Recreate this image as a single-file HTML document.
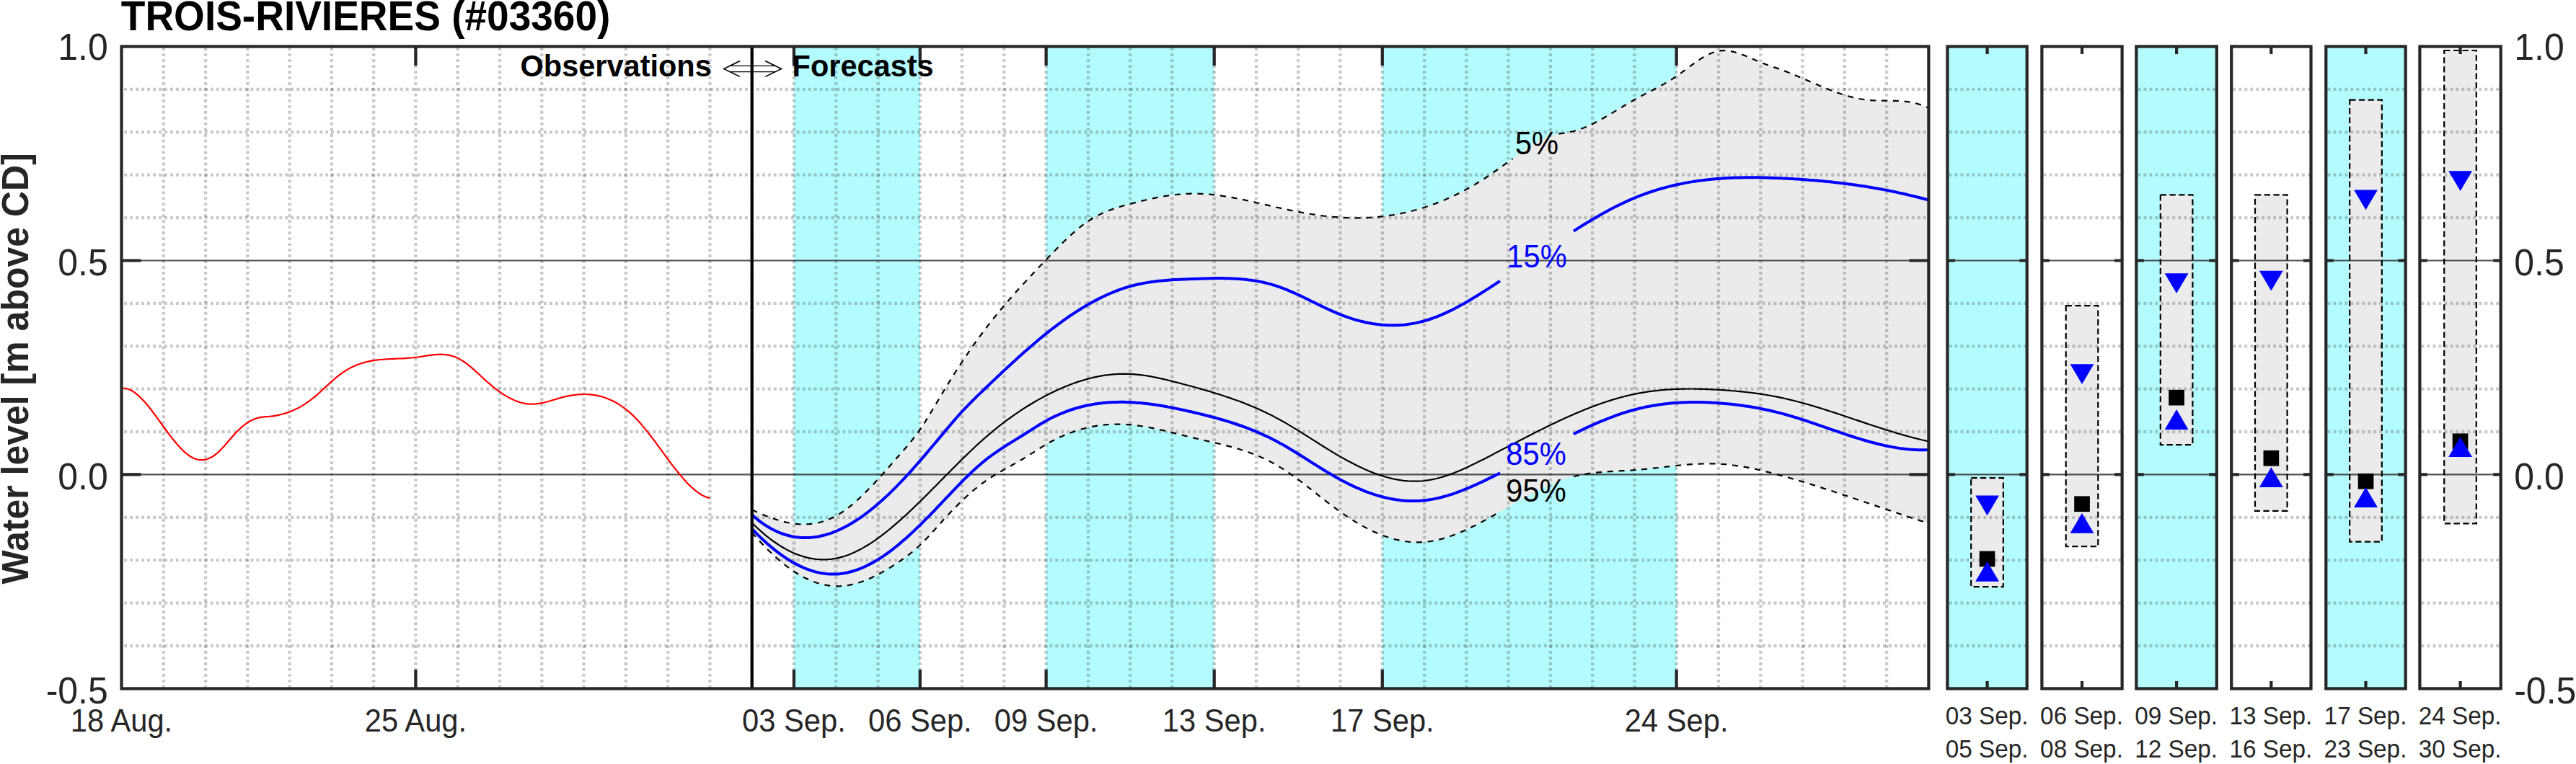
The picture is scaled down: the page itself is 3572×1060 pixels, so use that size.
<!DOCTYPE html>
<html lang="en"><head><meta charset="utf-8"><title>TROIS-RIVIERES (#03360)</title>
<style>html,body{margin:0;padding:0;background:#fff;}body{width:3572px;height:1060px;overflow:hidden;}svg{display:block;}</style>
</head><body>
<svg width="3572" height="1060" viewBox="0 0 3572 1060" font-family='"Liberation Sans", Arial, Helvetica, sans-serif'>
<rect width="3572" height="1060" fill="#fff"/>
<g id="main">
<rect x="1100.9" y="64.5" width="174.8" height="890.9" fill="#b3fbfd"/>
<rect x="1450.6" y="64.5" width="233.1" height="890.9" fill="#b3fbfd"/>
<rect x="1916.8" y="64.5" width="407.9" height="890.9" fill="#b3fbfd"/>
<path d="M1042.7 707.2 L1045.6 708.6 L1048.5 709.9 L1051.4 711.2 L1054.3 712.5 L1057.2 713.7 L1060.1 714.9 L1063.0 716.1 L1066.0 717.2 L1068.9 718.3 L1071.8 719.3 L1074.7 720.3 L1077.6 721.2 L1080.5 722.1 L1083.4 722.9 L1086.4 723.7 L1089.3 724.4 L1092.2 725.0 L1095.1 725.6 L1098.0 726.1 L1100.9 726.5 L1103.8 726.8 L1106.8 727.1 L1109.7 727.3 L1112.6 727.4 L1115.5 727.4 L1118.4 727.3 L1121.3 727.2 L1124.2 726.9 L1127.2 726.6 L1130.1 726.1 L1133.0 725.6 L1135.9 725.0 L1138.8 724.2 L1141.7 723.4 L1144.6 722.4 L1147.5 721.3 L1150.5 720.1 L1153.4 718.8 L1156.3 717.4 L1159.2 715.9 L1162.1 714.2 L1165.0 712.4 L1167.9 710.5 L1170.9 708.5 L1173.8 706.4 L1176.7 704.1 L1179.6 701.8 L1182.5 699.4 L1185.4 696.9 L1188.3 694.3 L1191.3 691.7 L1194.2 688.9 L1197.1 686.1 L1200.0 683.2 L1202.9 680.3 L1205.8 677.3 L1208.7 674.3 L1211.7 671.2 L1214.6 668.0 L1217.5 664.9 L1220.4 661.6 L1223.3 658.4 L1226.2 655.1 L1229.1 651.8 L1232.1 648.5 L1235.0 645.2 L1237.9 641.9 L1240.8 638.6 L1243.7 635.2 L1246.6 631.9 L1249.5 628.6 L1252.4 625.3 L1255.4 621.9 L1258.3 618.5 L1261.2 615.0 L1264.1 611.5 L1267.0 607.8 L1269.9 604.0 L1272.8 600.1 L1275.8 596.0 L1278.7 591.7 L1281.6 587.2 L1284.5 582.6 L1287.4 577.9 L1290.3 573.1 L1293.2 568.3 L1296.2 563.4 L1299.1 558.4 L1302.0 553.5 L1304.9 548.6 L1307.8 543.7 L1310.7 538.9 L1313.6 534.1 L1316.6 529.4 L1319.5 524.7 L1322.4 520.1 L1325.3 515.5 L1328.2 511.0 L1331.1 506.5 L1334.0 502.1 L1336.9 497.7 L1339.9 493.3 L1342.8 489.1 L1345.7 484.8 L1348.6 480.7 L1351.5 476.5 L1354.4 472.5 L1357.3 468.4 L1360.3 464.5 L1363.2 460.6 L1366.1 456.7 L1369.0 452.9 L1371.9 449.1 L1374.8 445.4 L1377.7 441.8 L1380.7 438.1 L1383.6 434.6 L1386.5 431.0 L1389.4 427.5 L1392.3 424.1 L1395.2 420.7 L1398.1 417.3 L1401.1 413.9 L1404.0 410.6 L1406.9 407.3 L1409.8 404.1 L1412.7 400.8 L1415.6 397.6 L1418.5 394.4 L1421.5 391.3 L1424.4 388.1 L1427.3 385.0 L1430.2 381.9 L1433.1 378.8 L1436.0 375.7 L1438.9 372.6 L1441.8 369.5 L1444.8 366.5 L1447.7 363.4 L1450.6 360.4 L1453.5 357.3 L1456.4 354.3 L1459.3 351.3 L1462.2 348.3 L1465.2 345.3 L1468.1 342.3 L1471.0 339.4 L1473.9 336.5 L1476.8 333.7 L1479.7 330.9 L1482.6 328.2 L1485.6 325.5 L1488.5 322.9 L1491.4 320.4 L1494.3 317.9 L1497.2 315.5 L1500.1 313.2 L1503.0 311.0 L1506.0 308.9 L1508.9 306.9 L1511.8 305.0 L1514.7 303.2 L1517.6 301.6 L1520.5 299.9 L1523.4 298.4 L1526.3 297.0 L1529.3 295.6 L1532.2 294.4 L1535.1 293.1 L1538.0 292.0 L1540.9 290.9 L1543.8 289.9 L1546.7 288.9 L1549.7 287.9 L1552.6 287.0 L1555.5 286.1 L1558.4 285.3 L1561.3 284.5 L1564.2 283.7 L1567.1 282.9 L1570.1 282.1 L1573.0 281.4 L1575.9 280.6 L1578.8 279.9 L1581.7 279.2 L1584.6 278.4 L1587.5 277.8 L1590.5 277.1 L1593.4 276.4 L1596.3 275.8 L1599.2 275.2 L1602.1 274.6 L1605.0 274.0 L1607.9 273.4 L1610.8 272.9 L1613.8 272.4 L1616.7 271.9 L1619.6 271.5 L1622.5 271.1 L1625.4 270.7 L1628.3 270.3 L1631.2 270.0 L1634.2 269.7 L1637.1 269.5 L1640.0 269.2 L1642.9 269.0 L1645.8 268.9 L1648.7 268.8 L1651.6 268.7 L1654.6 268.7 L1657.5 268.7 L1660.4 268.7 L1663.3 268.8 L1666.2 268.9 L1669.1 269.1 L1672.0 269.2 L1675.0 269.5 L1677.9 269.7 L1680.8 270.0 L1683.7 270.3 L1686.6 270.7 L1689.5 271.0 L1692.4 271.4 L1695.4 271.9 L1698.3 272.3 L1701.2 272.8 L1704.1 273.3 L1707.0 273.8 L1709.9 274.3 L1712.8 274.9 L1715.7 275.4 L1718.7 276.0 L1721.6 276.6 L1724.5 277.2 L1727.4 277.8 L1730.3 278.5 L1733.2 279.1 L1736.1 279.8 L1739.1 280.4 L1742.0 281.1 L1744.9 281.7 L1747.8 282.4 L1750.7 283.1 L1753.6 283.8 L1756.5 284.4 L1759.5 285.1 L1762.4 285.8 L1765.3 286.5 L1768.2 287.1 L1771.1 287.8 L1774.0 288.4 L1776.9 289.1 L1779.9 289.7 L1782.8 290.3 L1785.7 290.9 L1788.6 291.6 L1791.5 292.2 L1794.4 292.7 L1797.3 293.3 L1800.2 293.9 L1803.2 294.4 L1806.1 295.0 L1809.0 295.5 L1811.9 296.0 L1814.8 296.5 L1817.7 297.0 L1820.6 297.4 L1823.6 297.9 L1826.5 298.3 L1829.4 298.7 L1832.3 299.1 L1835.2 299.5 L1838.1 299.8 L1841.0 300.1 L1844.0 300.4 L1846.9 300.7 L1849.8 301.0 L1852.7 301.2 L1855.6 301.5 L1858.5 301.7 L1861.4 301.8 L1864.4 302.0 L1867.3 302.1 L1870.2 302.2 L1873.1 302.3 L1876.0 302.3 L1878.9 302.4 L1881.8 302.4 L1884.8 302.3 L1887.7 302.3 L1890.6 302.2 L1893.5 302.1 L1896.4 302.0 L1899.3 301.8 L1902.2 301.6 L1905.1 301.4 L1908.1 301.2 L1911.0 300.9 L1913.9 300.6 L1916.8 300.3 L1919.7 299.9 L1922.6 299.6 L1925.5 299.1 L1928.5 298.7 L1931.4 298.3 L1934.3 297.8 L1937.2 297.2 L1940.1 296.7 L1943.0 296.1 L1945.9 295.5 L1948.9 294.9 L1951.8 294.2 L1954.7 293.5 L1957.6 292.8 L1960.5 292.0 L1963.4 291.2 L1966.3 290.4 L1969.3 289.6 L1972.2 288.7 L1975.1 287.8 L1978.0 286.8 L1980.9 285.9 L1983.8 284.9 L1986.7 283.8 L1989.6 282.7 L1992.6 281.6 L1995.5 280.5 L1998.4 279.3 L2001.3 278.1 L2004.2 276.9 L2007.1 275.6 L2010.0 274.3 L2013.0 273.0 L2015.9 271.6 L2018.8 270.2 L2021.7 268.8 L2024.6 267.3 L2027.5 265.8 L2030.4 264.3 L2033.4 262.7 L2036.3 261.1 L2039.2 259.5 L2042.1 257.8 L2045.0 256.1 L2047.9 254.3 L2050.8 252.5 L2053.8 250.7 L2056.7 248.9 L2059.6 247.0 L2062.5 245.0 L2065.4 243.1 L2068.3 241.1 L2071.2 239.0 L2074.1 237.0 L2077.1 234.9 L2080.0 232.8 L2082.9 230.7 L2085.8 228.6 L2088.7 226.4 L2091.6 224.3 L2094.5 222.2 L2097.5 220.1 L2100.4 218.0 L2103.3 215.9 L2106.2 213.8 L2109.1 211.7 L2112.0 209.7 L2114.9 207.7 L2117.9 205.7 L2120.8 203.7 L2123.7 201.8 L2126.6 200.0 L2129.5 198.2 L2132.4 196.5 L2135.3 194.9 L2138.3 193.3 L2141.2 191.9 L2144.1 190.6 L2147.0 189.5 L2149.9 188.5 L2152.8 187.6 L2155.7 186.9 L2158.7 186.3 L2161.6 185.7 L2164.5 185.2 L2167.4 184.8 L2170.3 184.3 L2173.2 183.8 L2176.1 183.3 L2179.0 182.7 L2182.0 182.0 L2184.9 181.2 L2187.8 180.3 L2190.7 179.4 L2193.6 178.3 L2196.5 177.2 L2199.4 176.0 L2202.4 174.7 L2205.3 173.3 L2208.2 171.9 L2211.1 170.5 L2214.0 169.0 L2216.9 167.4 L2219.8 165.8 L2222.8 164.2 L2225.7 162.5 L2228.6 160.8 L2231.5 159.1 L2234.4 157.4 L2237.3 155.6 L2240.2 153.9 L2243.2 152.1 L2246.1 150.3 L2249.0 148.6 L2251.9 146.8 L2254.8 145.1 L2257.7 143.4 L2260.6 141.7 L2263.5 140.0 L2266.5 138.3 L2269.4 136.7 L2272.3 135.2 L2275.2 133.6 L2278.1 132.1 L2281.0 130.5 L2283.9 129.0 L2286.9 127.5 L2289.8 126.0 L2292.7 124.5 L2295.6 123.0 L2298.5 121.4 L2301.4 119.8 L2304.3 118.2 L2307.3 116.6 L2310.2 114.9 L2313.1 113.2 L2316.0 111.4 L2318.9 109.6 L2321.8 107.7 L2324.7 105.7 L2327.7 103.7 L2330.6 101.6 L2333.5 99.4 L2336.4 97.3 L2339.3 95.1 L2342.2 92.9 L2345.1 90.8 L2348.1 88.6 L2351.0 86.5 L2353.9 84.5 L2356.8 82.6 L2359.7 80.7 L2362.6 78.9 L2365.5 77.3 L2368.4 75.8 L2371.4 74.4 L2374.3 73.2 L2377.2 72.2 L2380.1 71.4 L2383.0 70.8 L2385.9 70.4 L2388.8 70.2 L2391.8 70.2 L2394.7 70.3 L2397.6 70.7 L2400.5 71.2 L2403.4 71.8 L2406.3 72.6 L2409.2 73.4 L2412.2 74.4 L2415.1 75.5 L2418.0 76.6 L2420.9 77.8 L2423.8 79.0 L2426.7 80.3 L2429.6 81.5 L2432.6 82.8 L2435.5 84.1 L2438.4 85.3 L2441.3 86.5 L2444.2 87.6 L2447.1 88.7 L2450.0 89.8 L2452.9 90.8 L2455.9 91.8 L2458.8 92.8 L2461.7 93.9 L2464.6 94.9 L2467.5 95.9 L2470.4 96.9 L2473.3 98.0 L2476.3 99.1 L2479.2 100.2 L2482.1 101.4 L2485.0 102.6 L2487.9 103.8 L2490.8 105.0 L2493.7 106.2 L2496.7 107.5 L2499.6 108.7 L2502.5 110.0 L2505.4 111.2 L2508.3 112.5 L2511.2 113.8 L2514.1 115.0 L2517.1 116.3 L2520.0 117.5 L2522.9 118.7 L2525.8 120.0 L2528.7 121.2 L2531.6 122.4 L2534.5 123.5 L2537.4 124.7 L2540.4 125.8 L2543.3 126.9 L2546.2 128.0 L2549.1 129.0 L2552.0 130.0 L2554.9 131.0 L2557.8 131.9 L2560.8 132.8 L2563.7 133.6 L2566.6 134.4 L2569.5 135.1 L2572.4 135.8 L2575.3 136.4 L2578.2 137.0 L2581.2 137.5 L2584.1 138.0 L2587.0 138.4 L2589.9 138.7 L2592.8 139.0 L2595.7 139.2 L2598.6 139.3 L2601.6 139.5 L2604.5 139.5 L2607.4 139.6 L2610.3 139.7 L2613.2 139.7 L2616.1 139.7 L2619.0 139.8 L2622.0 139.8 L2624.9 139.9 L2627.8 139.9 L2630.7 140.0 L2633.6 140.2 L2636.5 140.4 L2639.4 140.6 L2642.3 140.9 L2645.3 141.2 L2648.2 141.7 L2651.1 142.2 L2654.0 142.7 L2656.9 143.4 L2659.8 144.2 L2662.7 145.1 L2665.7 146.0 L2668.6 147.1 L2671.5 148.4 L2674.4 149.7 L2674.4 726.1 L2671.5 725.2 L2668.6 724.2 L2665.7 723.3 L2662.7 722.4 L2659.8 721.4 L2656.9 720.5 L2654.0 719.5 L2651.1 718.6 L2648.2 717.6 L2645.3 716.7 L2642.3 715.7 L2639.4 714.7 L2636.5 713.7 L2633.6 712.8 L2630.7 711.8 L2627.8 710.8 L2624.9 709.8 L2622.0 708.8 L2619.0 707.9 L2616.1 706.9 L2613.2 705.9 L2610.3 704.9 L2607.4 703.9 L2604.5 702.9 L2601.6 701.9 L2598.6 700.9 L2595.7 699.9 L2592.8 699.0 L2589.9 698.0 L2587.0 697.0 L2584.1 696.0 L2581.2 695.0 L2578.2 694.0 L2575.3 693.0 L2572.4 692.0 L2569.5 691.1 L2566.6 690.1 L2563.7 689.1 L2560.8 688.1 L2557.8 687.1 L2554.9 686.2 L2552.0 685.2 L2549.1 684.2 L2546.2 683.3 L2543.3 682.3 L2540.4 681.3 L2537.4 680.4 L2534.5 679.4 L2531.6 678.5 L2528.7 677.6 L2525.8 676.6 L2522.9 675.7 L2520.0 674.8 L2517.1 673.8 L2514.1 672.9 L2511.2 672.0 L2508.3 671.1 L2505.4 670.2 L2502.5 669.3 L2499.6 668.4 L2496.7 667.6 L2493.7 666.7 L2490.8 665.8 L2487.9 665.0 L2485.0 664.1 L2482.1 663.3 L2479.2 662.4 L2476.3 661.6 L2473.3 660.8 L2470.4 660.0 L2467.5 659.2 L2464.6 658.4 L2461.7 657.6 L2458.8 656.8 L2455.9 656.1 L2452.9 655.3 L2450.0 654.6 L2447.1 653.9 L2444.2 653.2 L2441.3 652.5 L2438.4 651.8 L2435.5 651.1 L2432.6 650.5 L2429.6 649.9 L2426.7 649.3 L2423.8 648.7 L2420.9 648.2 L2418.0 647.7 L2415.1 647.2 L2412.2 646.7 L2409.2 646.3 L2406.3 645.8 L2403.4 645.5 L2400.5 645.1 L2397.6 644.8 L2394.7 644.5 L2391.8 644.2 L2388.8 644.0 L2385.9 643.8 L2383.0 643.6 L2380.1 643.5 L2377.2 643.4 L2374.3 643.3 L2371.4 643.3 L2368.4 643.3 L2365.5 643.3 L2362.6 643.4 L2359.7 643.5 L2356.8 643.6 L2353.9 643.7 L2351.0 643.9 L2348.1 644.0 L2345.1 644.2 L2342.2 644.4 L2339.3 644.7 L2336.4 644.9 L2333.5 645.2 L2330.6 645.5 L2327.7 645.7 L2324.7 646.0 L2321.8 646.3 L2318.9 646.7 L2316.0 647.0 L2313.1 647.3 L2310.2 647.6 L2307.3 648.0 L2304.3 648.3 L2301.4 648.6 L2298.5 649.0 L2295.6 649.3 L2292.7 649.6 L2289.8 649.9 L2286.9 650.3 L2283.9 650.6 L2281.0 650.9 L2278.1 651.1 L2275.2 651.4 L2272.3 651.7 L2269.4 651.9 L2266.5 652.1 L2263.5 652.4 L2260.6 652.6 L2257.7 652.7 L2254.8 652.9 L2251.9 653.1 L2249.0 653.2 L2246.1 653.4 L2243.2 653.6 L2240.2 653.7 L2237.3 653.9 L2234.4 654.1 L2231.5 654.2 L2228.6 654.4 L2225.7 654.6 L2222.8 654.9 L2219.8 655.1 L2216.9 655.4 L2214.0 655.7 L2211.1 656.0 L2208.2 656.3 L2205.3 656.7 L2202.4 657.1 L2199.4 657.6 L2196.5 658.1 L2193.6 658.6 L2190.7 659.2 L2187.8 659.8 L2184.9 660.5 L2182.0 661.2 L2179.0 662.0 L2176.1 662.8 L2173.2 663.7 L2170.3 664.6 L2167.4 665.6 L2164.5 666.7 L2161.6 667.7 L2158.7 668.9 L2155.7 670.0 L2152.8 671.3 L2149.9 672.5 L2147.0 673.8 L2144.1 675.1 L2141.2 676.5 L2138.3 677.9 L2135.3 679.3 L2132.4 680.8 L2129.5 682.3 L2126.6 683.8 L2123.7 685.3 L2120.8 686.9 L2117.9 688.5 L2114.9 690.1 L2112.0 691.7 L2109.1 693.3 L2106.2 694.9 L2103.3 696.6 L2100.4 698.2 L2097.5 699.9 L2094.5 701.6 L2091.6 703.3 L2088.7 704.9 L2085.8 706.6 L2082.9 708.3 L2080.0 710.0 L2077.1 711.6 L2074.1 713.3 L2071.2 715.0 L2068.3 716.6 L2065.4 718.2 L2062.5 719.9 L2059.6 721.5 L2056.7 723.0 L2053.8 724.6 L2050.8 726.2 L2047.9 727.7 L2045.0 729.2 L2042.1 730.6 L2039.2 732.1 L2036.3 733.5 L2033.4 734.8 L2030.4 736.2 L2027.5 737.5 L2024.6 738.7 L2021.7 739.9 L2018.8 741.1 L2015.9 742.2 L2013.0 743.3 L2010.0 744.3 L2007.1 745.3 L2004.2 746.2 L2001.3 747.1 L1998.4 747.9 L1995.5 748.6 L1992.6 749.3 L1989.6 749.9 L1986.7 750.5 L1983.8 751.0 L1980.9 751.4 L1978.0 751.7 L1975.1 752.0 L1972.2 752.2 L1969.3 752.3 L1966.3 752.3 L1963.4 752.3 L1960.5 752.2 L1957.6 752.0 L1954.7 751.8 L1951.8 751.5 L1948.9 751.1 L1945.9 750.6 L1943.0 750.1 L1940.1 749.5 L1937.2 748.9 L1934.3 748.2 L1931.4 747.4 L1928.5 746.5 L1925.5 745.6 L1922.6 744.7 L1919.7 743.7 L1916.8 742.6 L1913.9 741.4 L1911.0 740.2 L1908.1 739.0 L1905.1 737.7 L1902.2 736.3 L1899.3 734.9 L1896.4 733.5 L1893.5 731.9 L1890.6 730.4 L1887.7 728.8 L1884.8 727.1 L1881.8 725.4 L1878.9 723.6 L1876.0 721.8 L1873.1 720.0 L1870.2 718.1 L1867.3 716.2 L1864.4 714.2 L1861.4 712.2 L1858.5 710.2 L1855.6 708.1 L1852.7 705.9 L1849.8 703.8 L1846.9 701.6 L1844.0 699.4 L1841.0 697.2 L1838.1 694.9 L1835.2 692.6 L1832.3 690.4 L1829.4 688.1 L1826.5 685.8 L1823.6 683.5 L1820.6 681.2 L1817.7 678.9 L1814.8 676.7 L1811.9 674.4 L1809.0 672.1 L1806.1 669.9 L1803.2 667.7 L1800.2 665.5 L1797.3 663.4 L1794.4 661.2 L1791.5 659.1 L1788.6 657.1 L1785.7 655.1 L1782.8 653.1 L1779.9 651.2 L1776.9 649.4 L1774.0 647.6 L1771.1 645.8 L1768.2 644.1 L1765.3 642.5 L1762.4 640.9 L1759.5 639.4 L1756.5 638.0 L1753.6 636.6 L1750.7 635.2 L1747.8 633.9 L1744.9 632.7 L1742.0 631.5 L1739.1 630.3 L1736.1 629.2 L1733.2 628.1 L1730.3 627.1 L1727.4 626.1 L1724.5 625.1 L1721.6 624.2 L1718.7 623.3 L1715.7 622.4 L1712.8 621.5 L1709.9 620.7 L1707.0 619.9 L1704.1 619.1 L1701.2 618.4 L1698.3 617.6 L1695.4 616.9 L1692.4 616.2 L1689.5 615.5 L1686.6 614.8 L1683.7 614.1 L1680.8 613.5 L1677.9 612.8 L1675.0 612.1 L1672.0 611.5 L1669.1 610.8 L1666.2 610.1 L1663.3 609.5 L1660.4 608.8 L1657.5 608.1 L1654.6 607.4 L1651.6 606.7 L1648.7 606.0 L1645.8 605.3 L1642.9 604.6 L1640.0 603.8 L1637.1 603.1 L1634.2 602.4 L1631.2 601.6 L1628.3 600.9 L1625.4 600.2 L1622.5 599.5 L1619.6 598.8 L1616.7 598.1 L1613.8 597.4 L1610.8 596.7 L1607.9 596.0 L1605.0 595.4 L1602.1 594.8 L1599.2 594.1 L1596.3 593.6 L1593.4 593.0 L1590.5 592.5 L1587.5 592.0 L1584.6 591.5 L1581.7 591.0 L1578.8 590.6 L1575.9 590.2 L1573.0 589.9 L1570.1 589.6 L1567.1 589.3 L1564.2 589.1 L1561.3 588.9 L1558.4 588.8 L1555.5 588.7 L1552.6 588.6 L1549.7 588.6 L1546.7 588.6 L1543.8 588.7 L1540.9 588.8 L1538.0 589.0 L1535.1 589.2 L1532.2 589.4 L1529.3 589.7 L1526.3 590.1 L1523.4 590.5 L1520.5 590.9 L1517.6 591.4 L1514.7 591.9 L1511.8 592.5 L1508.9 593.1 L1506.0 593.8 L1503.0 594.6 L1500.1 595.3 L1497.2 596.2 L1494.3 597.0 L1491.4 598.0 L1488.5 599.0 L1485.6 600.0 L1482.6 601.1 L1479.7 602.2 L1476.8 603.4 L1473.9 604.7 L1471.0 606.0 L1468.1 607.3 L1465.2 608.7 L1462.2 610.2 L1459.3 611.7 L1456.4 613.3 L1453.5 614.9 L1450.6 616.6 L1447.7 618.4 L1444.8 620.1 L1441.8 622.0 L1438.9 623.8 L1436.0 625.7 L1433.1 627.6 L1430.2 629.4 L1427.3 631.3 L1424.4 633.1 L1421.5 634.9 L1418.5 636.7 L1415.6 638.4 L1412.7 640.1 L1409.8 641.8 L1406.9 643.4 L1404.0 645.0 L1401.1 646.7 L1398.1 648.3 L1395.2 649.9 L1392.3 651.6 L1389.4 653.2 L1386.5 654.9 L1383.6 656.6 L1380.7 658.3 L1377.7 660.1 L1374.8 662.0 L1371.9 663.8 L1369.0 665.8 L1366.1 667.8 L1363.2 669.9 L1360.3 672.1 L1357.3 674.3 L1354.4 676.6 L1351.5 679.0 L1348.6 681.4 L1345.7 684.0 L1342.8 686.5 L1339.9 689.2 L1336.9 691.9 L1334.0 694.7 L1331.1 697.5 L1328.2 700.4 L1325.3 703.3 L1322.4 706.3 L1319.5 709.3 L1316.6 712.3 L1313.6 715.5 L1310.7 718.6 L1307.8 721.8 L1304.9 725.0 L1302.0 728.2 L1299.1 731.5 L1296.2 734.8 L1293.2 738.0 L1290.3 741.2 L1287.4 744.4 L1284.5 747.5 L1281.6 750.6 L1278.7 753.5 L1275.8 756.3 L1272.8 759.0 L1269.9 761.6 L1267.0 764.1 L1264.1 766.5 L1261.2 768.8 L1258.3 771.1 L1255.4 773.2 L1252.4 775.3 L1249.5 777.3 L1246.6 779.3 L1243.7 781.3 L1240.8 783.2 L1237.9 785.1 L1235.0 787.0 L1232.1 788.8 L1229.1 790.5 L1226.2 792.3 L1223.3 793.9 L1220.4 795.5 L1217.5 797.1 L1214.6 798.6 L1211.7 800.0 L1208.7 801.4 L1205.8 802.7 L1202.9 804.0 L1200.0 805.2 L1197.1 806.3 L1194.2 807.3 L1191.3 808.3 L1188.3 809.2 L1185.4 810.0 L1182.5 810.7 L1179.6 811.3 L1176.7 811.9 L1173.8 812.4 L1170.9 812.7 L1167.9 813.0 L1165.0 813.2 L1162.1 813.3 L1159.2 813.3 L1156.3 813.2 L1153.4 813.0 L1150.5 812.7 L1147.5 812.2 L1144.6 811.7 L1141.7 811.1 L1138.8 810.4 L1135.9 809.6 L1133.0 808.7 L1130.1 807.7 L1127.2 806.6 L1124.2 805.5 L1121.3 804.2 L1118.4 802.8 L1115.5 801.4 L1112.6 799.9 L1109.7 798.2 L1106.8 796.5 L1103.8 794.7 L1100.9 792.8 L1098.0 790.9 L1095.1 788.8 L1092.2 786.7 L1089.3 784.5 L1086.4 782.2 L1083.4 779.8 L1080.5 777.4 L1077.6 774.8 L1074.7 772.2 L1071.8 769.5 L1068.9 766.8 L1066.0 764.0 L1063.0 761.1 L1060.1 758.1 L1057.2 755.0 L1054.3 751.9 L1051.4 748.7 L1048.5 745.5 L1045.6 742.1 L1042.7 738.7 Z" fill="#ebebeb"/>
<path d="M226.8 66.2V955.4 M285.1 66.2V955.4 M343.3 66.2V955.4 M401.6 66.2V955.4 M459.9 66.2V955.4 M518.2 66.2V955.4 M576.4 66.2V955.4 M634.7 66.2V955.4 M693.0 66.2V955.4 M751.3 66.2V955.4 M809.5 66.2V955.4 M867.8 66.2V955.4 M926.1 66.2V955.4 M984.4 66.2V955.4 M1042.7 66.2V955.4 M1100.9 66.2V955.4 M1159.2 66.2V955.4 M1217.5 66.2V955.4 M1275.8 66.2V955.4 M1334.0 66.2V955.4 M1392.3 66.2V955.4 M1450.6 66.2V955.4 M1508.9 66.2V955.4 M1567.1 66.2V955.4 M1625.4 66.2V955.4 M1683.7 66.2V955.4 M1742.0 66.2V955.4 M1800.2 66.2V955.4 M1858.5 66.2V955.4 M1916.8 66.2V955.4 M1975.1 66.2V955.4 M2033.4 66.2V955.4 M2091.6 66.2V955.4 M2149.9 66.2V955.4 M2208.2 66.2V955.4 M2266.5 66.2V955.4 M2324.7 66.2V955.4 M2383.0 66.2V955.4 M2441.3 66.2V955.4 M2499.6 66.2V955.4 M2557.8 66.2V955.4 M2616.1 66.2V955.4" stroke="#262626" stroke-opacity="0.25" stroke-width="4.3" stroke-dasharray="3.9 4.07" fill="none"/>
<path d="M172.2 896.0H2674.4 M172.2 836.6H2674.4 M172.2 777.2H2674.4 M172.2 717.8H2674.4 M172.2 599.0H2674.4 M172.2 539.6H2674.4 M172.2 480.3H2674.4 M172.2 420.9H2674.4 M172.2 302.1H2674.4 M172.2 242.7H2674.4 M172.2 183.3H2674.4 M172.2 123.9H2674.4" stroke="#262626" stroke-opacity="0.25" stroke-width="4.3" stroke-dasharray="3.9 4.07" fill="none"/>
<line x1="168.5" x2="2674.4" y1="658.4" y2="658.4" stroke="#262626" stroke-opacity="0.8" stroke-width="2.2"/>
<line x1="168.5" x2="2674.4" y1="361.5" y2="361.5" stroke="#262626" stroke-opacity="0.8" stroke-width="2.2"/>
<path d="M168.5 539.0 L171.4 538.8 L174.3 539.0 L177.2 539.7 L180.2 540.8 L183.1 542.3 L186.0 544.1 L188.9 546.3 L191.8 548.7 L194.7 551.4 L197.6 554.4 L200.6 557.6 L203.5 560.9 L206.4 564.5 L209.3 568.2 L212.2 572.0 L215.1 575.9 L218.0 579.9 L220.9 583.9 L223.9 588.0 L226.8 592.0 L229.7 596.0 L232.6 600.0 L235.5 603.9 L238.4 607.7 L241.3 611.3 L244.3 614.8 L247.2 618.2 L250.1 621.4 L253.0 624.3 L255.9 627.1 L258.8 629.5 L261.7 631.8 L264.7 633.7 L267.6 635.3 L270.5 636.6 L273.4 637.5 L276.3 638.0 L279.2 638.2 L282.1 638.1 L285.1 637.6 L288.0 636.8 L290.9 635.6 L293.8 634.0 L296.7 632.2 L299.6 630.0 L302.5 627.5 L305.5 624.6 L308.4 621.6 L311.3 618.4 L314.2 615.1 L317.1 611.7 L320.0 608.3 L322.9 605.0 L325.8 601.7 L328.8 598.6 L331.7 595.7 L334.6 593.1 L337.5 590.6 L340.4 588.3 L343.3 586.3 L346.2 584.5 L349.2 583.0 L352.1 581.7 L355.0 580.6 L357.9 579.7 L360.8 579.1 L363.7 578.7 L366.6 578.4 L369.6 578.2 L372.5 578.0 L375.4 577.7 L378.3 577.3 L381.2 576.8 L384.1 576.3 L387.0 575.7 L390.0 575.0 L392.9 574.3 L395.8 573.4 L398.7 572.4 L401.6 571.4 L404.5 570.2 L407.4 569.0 L410.3 567.6 L413.3 566.2 L416.2 564.6 L419.1 562.9 L422.0 561.1 L424.9 559.2 L427.8 557.1 L430.7 555.0 L433.7 552.7 L436.6 550.3 L439.5 547.8 L442.4 545.2 L445.3 542.6 L448.2 539.9 L451.1 537.2 L454.1 534.6 L457.0 531.9 L459.9 529.3 L462.8 526.7 L465.7 524.2 L468.6 521.9 L471.5 519.6 L474.5 517.4 L477.4 515.5 L480.3 513.6 L483.2 511.9 L486.1 510.3 L489.0 508.9 L491.9 507.6 L494.8 506.3 L497.8 505.2 L500.7 504.3 L503.6 503.4 L506.5 502.6 L509.4 501.8 L512.3 501.2 L515.2 500.6 L518.2 500.1 L521.1 499.7 L524.0 499.3 L526.9 499.0 L529.8 498.8 L532.7 498.5 L535.6 498.3 L538.6 498.2 L541.5 498.0 L544.4 497.9 L547.3 497.8 L550.2 497.6 L553.1 497.5 L556.0 497.4 L559.0 497.3 L561.9 497.1 L564.8 496.9 L567.7 496.7 L570.6 496.5 L573.5 496.2 L576.4 495.8 L579.4 495.5 L582.3 495.0 L585.2 494.6 L588.1 494.1 L591.0 493.7 L593.9 493.2 L596.8 492.8 L599.7 492.4 L602.7 492.1 L605.6 491.9 L608.5 491.8 L611.4 491.7 L614.3 491.8 L617.2 492.0 L620.1 492.4 L623.1 492.9 L626.0 493.6 L628.9 494.5 L631.8 495.5 L634.7 496.8 L637.6 498.4 L640.5 500.1 L643.5 502.0 L646.4 504.1 L649.3 506.4 L652.2 508.7 L655.1 511.2 L658.0 513.7 L660.9 516.4 L663.9 519.0 L666.8 521.7 L669.7 524.4 L672.6 527.1 L675.5 529.7 L678.4 532.2 L681.3 534.7 L684.2 537.1 L687.2 539.4 L690.1 541.6 L693.0 543.7 L695.9 545.8 L698.8 547.7 L701.7 549.4 L704.6 551.1 L707.6 552.7 L710.5 554.1 L713.4 555.4 L716.3 556.6 L719.2 557.6 L722.1 558.5 L725.0 559.2 L728.0 559.8 L730.9 560.3 L733.8 560.6 L736.7 560.7 L739.6 560.6 L742.5 560.5 L745.4 560.1 L748.4 559.7 L751.3 559.1 L754.2 558.5 L757.1 557.8 L760.0 557.0 L762.9 556.2 L765.8 555.3 L768.8 554.4 L771.7 553.6 L774.6 552.7 L777.5 551.9 L780.4 551.1 L783.3 550.4 L786.2 549.7 L789.1 549.1 L792.1 548.6 L795.0 548.1 L797.9 547.8 L800.8 547.5 L803.7 547.2 L806.6 547.1 L809.5 547.0 L812.5 547.0 L815.4 547.2 L818.3 547.4 L821.2 547.7 L824.1 548.1 L827.0 548.6 L829.9 549.2 L832.9 549.9 L835.8 550.7 L838.7 551.7 L841.6 552.7 L844.5 553.9 L847.4 555.2 L850.3 556.6 L853.3 558.1 L856.2 559.8 L859.1 561.6 L862.0 563.6 L864.9 565.6 L867.8 567.8 L870.7 570.2 L873.6 572.7 L876.6 575.4 L879.5 578.2 L882.4 581.1 L885.3 584.2 L888.2 587.5 L891.1 590.9 L894.0 594.4 L897.0 598.0 L899.9 601.7 L902.8 605.5 L905.7 609.3 L908.6 613.2 L911.5 617.1 L914.4 621.1 L917.4 625.1 L920.3 629.1 L923.2 633.1 L926.1 637.0 L929.0 640.9 L931.9 644.8 L934.8 648.6 L937.8 652.3 L940.7 656.0 L943.6 659.5 L946.5 662.9 L949.4 666.2 L952.3 669.4 L955.2 672.4 L958.1 675.2 L961.1 677.9 L964.0 680.4 L966.9 682.6 L969.8 684.7 L972.7 686.5 L975.6 688.1 L978.5 689.4 L981.5 690.4 L984.4 691.2" stroke="#ff0000" stroke-width="2.2" fill="none" stroke-linejoin="round"/>
<path d="M1042.7 707.2 L1045.6 708.6 L1048.5 709.9 L1051.4 711.2 L1054.3 712.5 L1057.2 713.7 L1060.1 714.9 L1063.0 716.1 L1066.0 717.2 L1068.9 718.3 L1071.8 719.3 L1074.7 720.3 L1077.6 721.2 L1080.5 722.1 L1083.4 722.9 L1086.4 723.7 L1089.3 724.4 L1092.2 725.0 L1095.1 725.6 L1098.0 726.1 L1100.9 726.5 L1103.8 726.8 L1106.8 727.1 L1109.7 727.3 L1112.6 727.4 L1115.5 727.4 L1118.4 727.3 L1121.3 727.2 L1124.2 726.9 L1127.2 726.6 L1130.1 726.1 L1133.0 725.6 L1135.9 725.0 L1138.8 724.2 L1141.7 723.4 L1144.6 722.4 L1147.5 721.3 L1150.5 720.1 L1153.4 718.8 L1156.3 717.4 L1159.2 715.9 L1162.1 714.2 L1165.0 712.4 L1167.9 710.5 L1170.9 708.5 L1173.8 706.4 L1176.7 704.1 L1179.6 701.8 L1182.5 699.4 L1185.4 696.9 L1188.3 694.3 L1191.3 691.7 L1194.2 688.9 L1197.1 686.1 L1200.0 683.2 L1202.9 680.3 L1205.8 677.3 L1208.7 674.3 L1211.7 671.2 L1214.6 668.0 L1217.5 664.9 L1220.4 661.6 L1223.3 658.4 L1226.2 655.1 L1229.1 651.8 L1232.1 648.5 L1235.0 645.2 L1237.9 641.9 L1240.8 638.6 L1243.7 635.2 L1246.6 631.9 L1249.5 628.6 L1252.4 625.3 L1255.4 621.9 L1258.3 618.5 L1261.2 615.0 L1264.1 611.5 L1267.0 607.8 L1269.9 604.0 L1272.8 600.1 L1275.8 596.0 L1278.7 591.7 L1281.6 587.2 L1284.5 582.6 L1287.4 577.9 L1290.3 573.1 L1293.2 568.3 L1296.2 563.4 L1299.1 558.4 L1302.0 553.5 L1304.9 548.6 L1307.8 543.7 L1310.7 538.9 L1313.6 534.1 L1316.6 529.4 L1319.5 524.7 L1322.4 520.1 L1325.3 515.5 L1328.2 511.0 L1331.1 506.5 L1334.0 502.1 L1336.9 497.7 L1339.9 493.3 L1342.8 489.1 L1345.7 484.8 L1348.6 480.7 L1351.5 476.5 L1354.4 472.5 L1357.3 468.4 L1360.3 464.5 L1363.2 460.6 L1366.1 456.7 L1369.0 452.9 L1371.9 449.1 L1374.8 445.4 L1377.7 441.8 L1380.7 438.1 L1383.6 434.6 L1386.5 431.0 L1389.4 427.5 L1392.3 424.1 L1395.2 420.7 L1398.1 417.3 L1401.1 413.9 L1404.0 410.6 L1406.9 407.3 L1409.8 404.1 L1412.7 400.8 L1415.6 397.6 L1418.5 394.4 L1421.5 391.3 L1424.4 388.1 L1427.3 385.0 L1430.2 381.9 L1433.1 378.8 L1436.0 375.7 L1438.9 372.6 L1441.8 369.5 L1444.8 366.5 L1447.7 363.4 L1450.6 360.4 L1453.5 357.3 L1456.4 354.3 L1459.3 351.3 L1462.2 348.3 L1465.2 345.3 L1468.1 342.3 L1471.0 339.4 L1473.9 336.5 L1476.8 333.7 L1479.7 330.9 L1482.6 328.2 L1485.6 325.5 L1488.5 322.9 L1491.4 320.4 L1494.3 317.9 L1497.2 315.5 L1500.1 313.2 L1503.0 311.0 L1506.0 308.9 L1508.9 306.9 L1511.8 305.0 L1514.7 303.2 L1517.6 301.6 L1520.5 299.9 L1523.4 298.4 L1526.3 297.0 L1529.3 295.6 L1532.2 294.4 L1535.1 293.1 L1538.0 292.0 L1540.9 290.9 L1543.8 289.9 L1546.7 288.9 L1549.7 287.9 L1552.6 287.0 L1555.5 286.1 L1558.4 285.3 L1561.3 284.5 L1564.2 283.7 L1567.1 282.9 L1570.1 282.1 L1573.0 281.4 L1575.9 280.6 L1578.8 279.9 L1581.7 279.2 L1584.6 278.4 L1587.5 277.8 L1590.5 277.1 L1593.4 276.4 L1596.3 275.8 L1599.2 275.2 L1602.1 274.6 L1605.0 274.0 L1607.9 273.4 L1610.8 272.9 L1613.8 272.4 L1616.7 271.9 L1619.6 271.5 L1622.5 271.1 L1625.4 270.7 L1628.3 270.3 L1631.2 270.0 L1634.2 269.7 L1637.1 269.5 L1640.0 269.2 L1642.9 269.0 L1645.8 268.9 L1648.7 268.8 L1651.6 268.7 L1654.6 268.7 L1657.5 268.7 L1660.4 268.7 L1663.3 268.8 L1666.2 268.9 L1669.1 269.1 L1672.0 269.2 L1675.0 269.5 L1677.9 269.7 L1680.8 270.0 L1683.7 270.3 L1686.6 270.7 L1689.5 271.0 L1692.4 271.4 L1695.4 271.9 L1698.3 272.3 L1701.2 272.8 L1704.1 273.3 L1707.0 273.8 L1709.9 274.3 L1712.8 274.9 L1715.7 275.4 L1718.7 276.0 L1721.6 276.6 L1724.5 277.2 L1727.4 277.8 L1730.3 278.5 L1733.2 279.1 L1736.1 279.8 L1739.1 280.4 L1742.0 281.1 L1744.9 281.7 L1747.8 282.4 L1750.7 283.1 L1753.6 283.8 L1756.5 284.4 L1759.5 285.1 L1762.4 285.8 L1765.3 286.5 L1768.2 287.1 L1771.1 287.8 L1774.0 288.4 L1776.9 289.1 L1779.9 289.7 L1782.8 290.3 L1785.7 290.9 L1788.6 291.6 L1791.5 292.2 L1794.4 292.7 L1797.3 293.3 L1800.2 293.9 L1803.2 294.4 L1806.1 295.0 L1809.0 295.5 L1811.9 296.0 L1814.8 296.5 L1817.7 297.0 L1820.6 297.4 L1823.6 297.9 L1826.5 298.3 L1829.4 298.7 L1832.3 299.1 L1835.2 299.5 L1838.1 299.8 L1841.0 300.1 L1844.0 300.4 L1846.9 300.7 L1849.8 301.0 L1852.7 301.2 L1855.6 301.5 L1858.5 301.7 L1861.4 301.8 L1864.4 302.0 L1867.3 302.1 L1870.2 302.2 L1873.1 302.3 L1876.0 302.3 L1878.9 302.4 L1881.8 302.4 L1884.8 302.3 L1887.7 302.3 L1890.6 302.2 L1893.5 302.1 L1896.4 302.0 L1899.3 301.8 L1902.2 301.6 L1905.1 301.4 L1908.1 301.2 L1911.0 300.9 L1913.9 300.6 L1916.8 300.3 L1919.7 299.9 L1922.6 299.6 L1925.5 299.1 L1928.5 298.7 L1931.4 298.3 L1934.3 297.8 L1937.2 297.2 L1940.1 296.7 L1943.0 296.1 L1945.9 295.5 L1948.9 294.9 L1951.8 294.2 L1954.7 293.5 L1957.6 292.8 L1960.5 292.0 L1963.4 291.2 L1966.3 290.4 L1969.3 289.6 L1972.2 288.7 L1975.1 287.8 L1978.0 286.8 L1980.9 285.9 L1983.8 284.9 L1986.7 283.8 L1989.6 282.7 L1992.6 281.6 L1995.5 280.5 L1998.4 279.3 L2001.3 278.1 L2004.2 276.9 L2007.1 275.6 L2010.0 274.3 L2013.0 273.0 L2015.9 271.6 L2018.8 270.2 L2021.7 268.8 L2024.6 267.3 L2027.5 265.8 L2030.4 264.3 L2033.4 262.7 L2036.3 261.1 L2039.2 259.5 L2042.1 257.8 L2045.0 256.1 L2047.9 254.3 L2050.8 252.5 L2053.8 250.7 L2056.7 248.9 L2059.6 247.0 L2062.5 245.0 L2065.4 243.1 L2068.3 241.1 L2071.2 239.0 L2074.1 237.0 L2077.1 234.9 L2080.0 232.8 L2082.9 230.7 L2085.8 228.6 L2088.7 226.4 L2091.6 224.3 L2094.5 222.2 L2097.5 220.1 M2161.6 185.7 L2164.5 185.2 L2167.4 184.8 L2170.3 184.3 L2173.2 183.8 L2176.1 183.3 L2179.0 182.7 L2182.0 182.0 L2184.9 181.2 L2187.8 180.3 L2190.7 179.4 L2193.6 178.3 L2196.5 177.2 L2199.4 176.0 L2202.4 174.7 L2205.3 173.3 L2208.2 171.9 L2211.1 170.5 L2214.0 169.0 L2216.9 167.4 L2219.8 165.8 L2222.8 164.2 L2225.7 162.5 L2228.6 160.8 L2231.5 159.1 L2234.4 157.4 L2237.3 155.6 L2240.2 153.9 L2243.2 152.1 L2246.1 150.3 L2249.0 148.6 L2251.9 146.8 L2254.8 145.1 L2257.7 143.4 L2260.6 141.7 L2263.5 140.0 L2266.5 138.3 L2269.4 136.7 L2272.3 135.2 L2275.2 133.6 L2278.1 132.1 L2281.0 130.5 L2283.9 129.0 L2286.9 127.5 L2289.8 126.0 L2292.7 124.5 L2295.6 123.0 L2298.5 121.4 L2301.4 119.8 L2304.3 118.2 L2307.3 116.6 L2310.2 114.9 L2313.1 113.2 L2316.0 111.4 L2318.9 109.6 L2321.8 107.7 L2324.7 105.7 L2327.7 103.7 L2330.6 101.6 L2333.5 99.4 L2336.4 97.3 L2339.3 95.1 L2342.2 92.9 L2345.1 90.8 L2348.1 88.6 L2351.0 86.5 L2353.9 84.5 L2356.8 82.6 L2359.7 80.7 L2362.6 78.9 L2365.5 77.3 L2368.4 75.8 L2371.4 74.4 L2374.3 73.2 L2377.2 72.2 L2380.1 71.4 L2383.0 70.8 L2385.9 70.4 L2388.8 70.2 L2391.8 70.2 L2394.7 70.3 L2397.6 70.7 L2400.5 71.2 L2403.4 71.8 L2406.3 72.6 L2409.2 73.4 L2412.2 74.4 L2415.1 75.5 L2418.0 76.6 L2420.9 77.8 L2423.8 79.0 L2426.7 80.3 L2429.6 81.5 L2432.6 82.8 L2435.5 84.1 L2438.4 85.3 L2441.3 86.5 L2444.2 87.6 L2447.1 88.7 L2450.0 89.8 L2452.9 90.8 L2455.9 91.8 L2458.8 92.8 L2461.7 93.9 L2464.6 94.9 L2467.5 95.9 L2470.4 96.9 L2473.3 98.0 L2476.3 99.1 L2479.2 100.2 L2482.1 101.4 L2485.0 102.6 L2487.9 103.8 L2490.8 105.0 L2493.7 106.2 L2496.7 107.5 L2499.6 108.7 L2502.5 110.0 L2505.4 111.2 L2508.3 112.5 L2511.2 113.8 L2514.1 115.0 L2517.1 116.3 L2520.0 117.5 L2522.9 118.7 L2525.8 120.0 L2528.7 121.2 L2531.6 122.4 L2534.5 123.5 L2537.4 124.7 L2540.4 125.8 L2543.3 126.9 L2546.2 128.0 L2549.1 129.0 L2552.0 130.0 L2554.9 131.0 L2557.8 131.9 L2560.8 132.8 L2563.7 133.6 L2566.6 134.4 L2569.5 135.1 L2572.4 135.8 L2575.3 136.4 L2578.2 137.0 L2581.2 137.5 L2584.1 138.0 L2587.0 138.4 L2589.9 138.7 L2592.8 139.0 L2595.7 139.2 L2598.6 139.3 L2601.6 139.5 L2604.5 139.5 L2607.4 139.6 L2610.3 139.7 L2613.2 139.7 L2616.1 139.7 L2619.0 139.8 L2622.0 139.8 L2624.9 139.9 L2627.8 139.9 L2630.7 140.0 L2633.6 140.2 L2636.5 140.4 L2639.4 140.6 L2642.3 140.9 L2645.3 141.2 L2648.2 141.7 L2651.1 142.2 L2654.0 142.7 L2656.9 143.4 L2659.8 144.2 L2662.7 145.1 L2665.7 146.0 L2668.6 147.1 L2671.5 148.4 L2674.4 149.7" stroke="#000" stroke-width="2.2" fill="none" stroke-dasharray="8 7.8"/>
<path d="M1042.7 738.7 L1045.6 742.1 L1048.5 745.5 L1051.4 748.7 L1054.3 751.9 L1057.2 755.0 L1060.1 758.1 L1063.0 761.1 L1066.0 764.0 L1068.9 766.8 L1071.8 769.5 L1074.7 772.2 L1077.6 774.8 L1080.5 777.4 L1083.4 779.8 L1086.4 782.2 L1089.3 784.5 L1092.2 786.7 L1095.1 788.8 L1098.0 790.9 L1100.9 792.8 L1103.8 794.7 L1106.8 796.5 L1109.7 798.2 L1112.6 799.9 L1115.5 801.4 L1118.4 802.8 L1121.3 804.2 L1124.2 805.5 L1127.2 806.6 L1130.1 807.7 L1133.0 808.7 L1135.9 809.6 L1138.8 810.4 L1141.7 811.1 L1144.6 811.7 L1147.5 812.2 L1150.5 812.7 L1153.4 813.0 L1156.3 813.2 L1159.2 813.3 L1162.1 813.3 L1165.0 813.2 L1167.9 813.0 L1170.9 812.7 L1173.8 812.4 L1176.7 811.9 L1179.6 811.3 L1182.5 810.7 L1185.4 810.0 L1188.3 809.2 L1191.3 808.3 L1194.2 807.3 L1197.1 806.3 L1200.0 805.2 L1202.9 804.0 L1205.8 802.7 L1208.7 801.4 L1211.7 800.0 L1214.6 798.6 L1217.5 797.1 L1220.4 795.5 L1223.3 793.9 L1226.2 792.3 L1229.1 790.5 L1232.1 788.8 L1235.0 787.0 L1237.9 785.1 L1240.8 783.2 L1243.7 781.3 L1246.6 779.3 L1249.5 777.3 L1252.4 775.3 L1255.4 773.2 L1258.3 771.1 L1261.2 768.8 L1264.1 766.5 L1267.0 764.1 L1269.9 761.6 L1272.8 759.0 L1275.8 756.3 L1278.7 753.5 L1281.6 750.6 L1284.5 747.5 L1287.4 744.4 L1290.3 741.2 L1293.2 738.0 L1296.2 734.8 L1299.1 731.5 L1302.0 728.2 L1304.9 725.0 L1307.8 721.8 L1310.7 718.6 L1313.6 715.5 L1316.6 712.3 L1319.5 709.3 L1322.4 706.3 L1325.3 703.3 L1328.2 700.4 L1331.1 697.5 L1334.0 694.7 L1336.9 691.9 L1339.9 689.2 L1342.8 686.5 L1345.7 684.0 L1348.6 681.4 L1351.5 679.0 L1354.4 676.6 L1357.3 674.3 L1360.3 672.1 L1363.2 669.9 L1366.1 667.8 L1369.0 665.8 L1371.9 663.8 L1374.8 662.0 L1377.7 660.1 L1380.7 658.3 L1383.6 656.6 L1386.5 654.9 L1389.4 653.2 L1392.3 651.6 L1395.2 649.9 L1398.1 648.3 L1401.1 646.7 L1404.0 645.0 L1406.9 643.4 L1409.8 641.8 L1412.7 640.1 L1415.6 638.4 L1418.5 636.7 L1421.5 634.9 L1424.4 633.1 L1427.3 631.3 L1430.2 629.4 L1433.1 627.6 L1436.0 625.7 L1438.9 623.8 L1441.8 622.0 L1444.8 620.1 L1447.7 618.4 L1450.6 616.6 L1453.5 614.9 L1456.4 613.3 L1459.3 611.7 L1462.2 610.2 L1465.2 608.7 L1468.1 607.3 L1471.0 606.0 L1473.9 604.7 L1476.8 603.4 L1479.7 602.2 L1482.6 601.1 L1485.6 600.0 L1488.5 599.0 L1491.4 598.0 L1494.3 597.0 L1497.2 596.2 L1500.1 595.3 L1503.0 594.6 L1506.0 593.8 L1508.9 593.1 L1511.8 592.5 L1514.7 591.9 L1517.6 591.4 L1520.5 590.9 L1523.4 590.5 L1526.3 590.1 L1529.3 589.7 L1532.2 589.4 L1535.1 589.2 L1538.0 589.0 L1540.9 588.8 L1543.8 588.7 L1546.7 588.6 L1549.7 588.6 L1552.6 588.6 L1555.5 588.7 L1558.4 588.8 L1561.3 588.9 L1564.2 589.1 L1567.1 589.3 L1570.1 589.6 L1573.0 589.9 L1575.9 590.2 L1578.8 590.6 L1581.7 591.0 L1584.6 591.5 L1587.5 592.0 L1590.5 592.5 L1593.4 593.0 L1596.3 593.6 L1599.2 594.1 L1602.1 594.8 L1605.0 595.4 L1607.9 596.0 L1610.8 596.7 L1613.8 597.4 L1616.7 598.1 L1619.6 598.8 L1622.5 599.5 L1625.4 600.2 L1628.3 600.9 L1631.2 601.6 L1634.2 602.4 L1637.1 603.1 L1640.0 603.8 L1642.9 604.6 L1645.8 605.3 L1648.7 606.0 L1651.6 606.7 L1654.6 607.4 L1657.5 608.1 L1660.4 608.8 L1663.3 609.5 L1666.2 610.1 L1669.1 610.8 L1672.0 611.5 L1675.0 612.1 L1677.9 612.8 L1680.8 613.5 L1683.7 614.1 L1686.6 614.8 L1689.5 615.5 L1692.4 616.2 L1695.4 616.9 L1698.3 617.6 L1701.2 618.4 L1704.1 619.1 L1707.0 619.9 L1709.9 620.7 L1712.8 621.5 L1715.7 622.4 L1718.7 623.3 L1721.6 624.2 L1724.5 625.1 L1727.4 626.1 L1730.3 627.1 L1733.2 628.1 L1736.1 629.2 L1739.1 630.3 L1742.0 631.5 L1744.9 632.7 L1747.8 633.9 L1750.7 635.2 L1753.6 636.6 L1756.5 638.0 L1759.5 639.4 L1762.4 640.9 L1765.3 642.5 L1768.2 644.1 L1771.1 645.8 L1774.0 647.6 L1776.9 649.4 L1779.9 651.2 L1782.8 653.1 L1785.7 655.1 L1788.6 657.1 L1791.5 659.1 L1794.4 661.2 L1797.3 663.4 L1800.2 665.5 L1803.2 667.7 L1806.1 669.9 L1809.0 672.1 L1811.9 674.4 L1814.8 676.7 L1817.7 678.9 L1820.6 681.2 L1823.6 683.5 L1826.5 685.8 L1829.4 688.1 L1832.3 690.4 L1835.2 692.6 L1838.1 694.9 L1841.0 697.2 L1844.0 699.4 L1846.9 701.6 L1849.8 703.8 L1852.7 705.9 L1855.6 708.1 L1858.5 710.2 L1861.4 712.2 L1864.4 714.2 L1867.3 716.2 L1870.2 718.1 L1873.1 720.0 L1876.0 721.8 L1878.9 723.6 L1881.8 725.4 L1884.8 727.1 L1887.7 728.8 L1890.6 730.4 L1893.5 731.9 L1896.4 733.5 L1899.3 734.9 L1902.2 736.3 L1905.1 737.7 L1908.1 739.0 L1911.0 740.2 L1913.9 741.4 L1916.8 742.6 L1919.7 743.7 L1922.6 744.7 L1925.5 745.6 L1928.5 746.5 L1931.4 747.4 L1934.3 748.2 L1937.2 748.9 L1940.1 749.5 L1943.0 750.1 L1945.9 750.6 L1948.9 751.1 L1951.8 751.5 L1954.7 751.8 L1957.6 752.0 L1960.5 752.2 L1963.4 752.3 L1966.3 752.3 L1969.3 752.3 L1972.2 752.2 L1975.1 752.0 L1978.0 751.7 L1980.9 751.4 L1983.8 751.0 L1986.7 750.5 L1989.6 749.9 L1992.6 749.3 L1995.5 748.6 L1998.4 747.9 L2001.3 747.1 L2004.2 746.2 L2007.1 745.3 L2010.0 744.3 L2013.0 743.3 L2015.9 742.2 L2018.8 741.1 L2021.7 739.9 L2024.6 738.7 L2027.5 737.5 L2030.4 736.2 L2033.4 734.8 L2036.3 733.5 L2039.2 732.1 L2042.1 730.6 L2045.0 729.2 L2047.9 727.7 L2050.8 726.2 L2053.8 724.6 L2056.7 723.0 L2059.6 721.5 L2062.5 719.9 L2065.4 718.2 L2068.3 716.6 L2071.2 715.0 L2074.1 713.3 L2077.1 711.6 L2080.0 710.0 M2182.0 661.2 L2184.9 660.5 L2187.8 659.8 L2190.7 659.2 L2193.6 658.6 L2196.5 658.1 L2199.4 657.6 L2202.4 657.1 L2205.3 656.7 L2208.2 656.3 L2211.1 656.0 L2214.0 655.7 L2216.9 655.4 L2219.8 655.1 L2222.8 654.9 L2225.7 654.6 L2228.6 654.4 L2231.5 654.2 L2234.4 654.1 L2237.3 653.9 L2240.2 653.7 L2243.2 653.6 L2246.1 653.4 L2249.0 653.2 L2251.9 653.1 L2254.8 652.9 L2257.7 652.7 L2260.6 652.6 L2263.5 652.4 L2266.5 652.1 L2269.4 651.9 L2272.3 651.7 L2275.2 651.4 L2278.1 651.1 L2281.0 650.9 L2283.9 650.6 L2286.9 650.3 L2289.8 649.9 L2292.7 649.6 L2295.6 649.3 L2298.5 649.0 L2301.4 648.6 L2304.3 648.3 L2307.3 648.0 L2310.2 647.6 L2313.1 647.3 L2316.0 647.0 L2318.9 646.7 L2321.8 646.3 L2324.7 646.0 L2327.7 645.7 L2330.6 645.5 L2333.5 645.2 L2336.4 644.9 L2339.3 644.7 L2342.2 644.4 L2345.1 644.2 L2348.1 644.0 L2351.0 643.9 L2353.9 643.7 L2356.8 643.6 L2359.7 643.5 L2362.6 643.4 L2365.5 643.3 L2368.4 643.3 L2371.4 643.3 L2374.3 643.3 L2377.2 643.4 L2380.1 643.5 L2383.0 643.6 L2385.9 643.8 L2388.8 644.0 L2391.8 644.2 L2394.7 644.5 L2397.6 644.8 L2400.5 645.1 L2403.4 645.5 L2406.3 645.8 L2409.2 646.3 L2412.2 646.7 L2415.1 647.2 L2418.0 647.7 L2420.9 648.2 L2423.8 648.7 L2426.7 649.3 L2429.6 649.9 L2432.6 650.5 L2435.5 651.1 L2438.4 651.8 L2441.3 652.5 L2444.2 653.2 L2447.1 653.9 L2450.0 654.6 L2452.9 655.3 L2455.9 656.1 L2458.8 656.8 L2461.7 657.6 L2464.6 658.4 L2467.5 659.2 L2470.4 660.0 L2473.3 660.8 L2476.3 661.6 L2479.2 662.4 L2482.1 663.3 L2485.0 664.1 L2487.9 665.0 L2490.8 665.8 L2493.7 666.7 L2496.7 667.6 L2499.6 668.4 L2502.5 669.3 L2505.4 670.2 L2508.3 671.1 L2511.2 672.0 L2514.1 672.9 L2517.1 673.8 L2520.0 674.8 L2522.9 675.7 L2525.8 676.6 L2528.7 677.6 L2531.6 678.5 L2534.5 679.4 L2537.4 680.4 L2540.4 681.3 L2543.3 682.3 L2546.2 683.3 L2549.1 684.2 L2552.0 685.2 L2554.9 686.2 L2557.8 687.1 L2560.8 688.1 L2563.7 689.1 L2566.6 690.1 L2569.5 691.1 L2572.4 692.0 L2575.3 693.0 L2578.2 694.0 L2581.2 695.0 L2584.1 696.0 L2587.0 697.0 L2589.9 698.0 L2592.8 699.0 L2595.7 699.9 L2598.6 700.9 L2601.6 701.9 L2604.5 702.9 L2607.4 703.9 L2610.3 704.9 L2613.2 705.9 L2616.1 706.9 L2619.0 707.9 L2622.0 708.8 L2624.9 709.8 L2627.8 710.8 L2630.7 711.8 L2633.6 712.8 L2636.5 713.7 L2639.4 714.7 L2642.3 715.7 L2645.3 716.7 L2648.2 717.6 L2651.1 718.6 L2654.0 719.5 L2656.9 720.5 L2659.8 721.4 L2662.7 722.4 L2665.7 723.3 L2668.6 724.2 L2671.5 725.2 L2674.4 726.1" stroke="#000" stroke-width="2.2" fill="none" stroke-dasharray="8 7.8"/>
<path d="M1042.7 725.3 L1045.6 728.2 L1048.5 731.0 L1051.4 733.7 L1054.3 736.3 L1057.2 738.9 L1060.1 741.4 L1063.0 743.8 L1066.0 746.1 L1068.9 748.3 L1071.8 750.5 L1074.7 752.5 L1077.6 754.5 L1080.5 756.4 L1083.4 758.2 L1086.4 760.0 L1089.3 761.6 L1092.2 763.2 L1095.1 764.7 L1098.0 766.1 L1100.9 767.4 L1103.8 768.6 L1106.8 769.7 L1109.7 770.8 L1112.6 771.7 L1115.5 772.6 L1118.4 773.4 L1121.3 774.1 L1124.2 774.7 L1127.2 775.2 L1130.1 775.6 L1133.0 776.0 L1135.9 776.2 L1138.8 776.3 L1141.7 776.4 L1144.6 776.3 L1147.5 776.2 L1150.5 776.0 L1153.4 775.7 L1156.3 775.2 L1159.2 774.7 L1162.1 774.1 L1165.0 773.4 L1167.9 772.6 L1170.9 771.7 L1173.8 770.7 L1176.7 769.7 L1179.6 768.5 L1182.5 767.3 L1185.4 766.0 L1188.3 764.6 L1191.3 763.1 L1194.2 761.6 L1197.1 759.9 L1200.0 758.3 L1202.9 756.5 L1205.8 754.7 L1208.7 752.8 L1211.7 750.8 L1214.6 748.8 L1217.5 746.7 L1220.4 744.6 L1223.3 742.4 L1226.2 740.2 L1229.1 737.9 L1232.1 735.5 L1235.0 733.2 L1237.9 730.7 L1240.8 728.2 L1243.7 725.7 L1246.6 723.2 L1249.5 720.6 L1252.4 717.9 L1255.4 715.3 L1258.3 712.6 L1261.2 709.8 L1264.1 707.1 L1267.0 704.3 L1269.9 701.5 L1272.8 698.6 L1275.8 695.8 L1278.7 692.9 L1281.6 690.0 L1284.5 687.1 L1287.4 684.2 L1290.3 681.3 L1293.2 678.3 L1296.2 675.4 L1299.1 672.4 L1302.0 669.5 L1304.9 666.5 L1307.8 663.6 L1310.7 660.6 L1313.6 657.7 L1316.6 654.7 L1319.5 651.8 L1322.4 648.9 L1325.3 645.9 L1328.2 643.0 L1331.1 640.1 L1334.0 637.3 L1336.9 634.4 L1339.9 631.6 L1342.8 628.8 L1345.7 626.0 L1348.6 623.2 L1351.5 620.5 L1354.4 617.8 L1357.3 615.1 L1360.3 612.5 L1363.2 609.9 L1366.1 607.3 L1369.0 604.8 L1371.9 602.3 L1374.8 599.9 L1377.7 597.4 L1380.7 595.1 L1383.6 592.7 L1386.5 590.4 L1389.4 588.2 L1392.3 585.9 L1395.2 583.7 L1398.1 581.6 L1401.1 579.5 L1404.0 577.4 L1406.9 575.3 L1409.8 573.3 L1412.7 571.3 L1415.6 569.4 L1418.5 567.5 L1421.5 565.6 L1424.4 563.8 L1427.3 562.0 L1430.2 560.2 L1433.1 558.5 L1436.0 556.8 L1438.9 555.1 L1441.8 553.5 L1444.8 551.9 L1447.7 550.3 L1450.6 548.8 L1453.5 547.3 L1456.4 545.8 L1459.3 544.4 L1462.2 543.0 L1465.2 541.6 L1468.1 540.3 L1471.0 539.0 L1473.9 537.7 L1476.8 536.5 L1479.7 535.3 L1482.6 534.2 L1485.6 533.0 L1488.5 532.0 L1491.4 530.9 L1494.3 529.9 L1497.2 529.0 L1500.1 528.1 L1503.0 527.2 L1506.0 526.4 L1508.9 525.6 L1511.8 524.8 L1514.7 524.1 L1517.6 523.4 L1520.5 522.8 L1523.4 522.2 L1526.3 521.7 L1529.3 521.2 L1532.2 520.7 L1535.1 520.3 L1538.0 520.0 L1540.9 519.7 L1543.8 519.4 L1546.7 519.2 L1549.7 519.0 L1552.6 518.9 L1555.5 518.8 L1558.4 518.7 L1561.3 518.8 L1564.2 518.8 L1567.1 518.9 L1570.1 519.1 L1573.0 519.3 L1575.9 519.6 L1578.8 519.9 L1581.7 520.2 L1584.6 520.6 L1587.5 521.0 L1590.5 521.4 L1593.4 521.9 L1596.3 522.4 L1599.2 523.0 L1602.1 523.6 L1605.0 524.2 L1607.9 524.8 L1610.8 525.4 L1613.8 526.1 L1616.7 526.8 L1619.6 527.5 L1622.5 528.2 L1625.4 528.9 L1628.3 529.7 L1631.2 530.4 L1634.2 531.2 L1637.1 531.9 L1640.0 532.7 L1642.9 533.5 L1645.8 534.3 L1648.7 535.0 L1651.6 535.8 L1654.6 536.6 L1657.5 537.5 L1660.4 538.3 L1663.3 539.1 L1666.2 539.9 L1669.1 540.7 L1672.0 541.6 L1675.0 542.4 L1677.9 543.3 L1680.8 544.2 L1683.7 545.1 L1686.6 546.0 L1689.5 546.9 L1692.4 547.8 L1695.4 548.7 L1698.3 549.7 L1701.2 550.7 L1704.1 551.6 L1707.0 552.6 L1709.9 553.7 L1712.8 554.7 L1715.7 555.8 L1718.7 556.8 L1721.6 557.9 L1724.5 559.0 L1727.4 560.2 L1730.3 561.4 L1733.2 562.5 L1736.1 563.7 L1739.1 565.0 L1742.0 566.2 L1744.9 567.5 L1747.8 568.8 L1750.7 570.2 L1753.6 571.6 L1756.5 573.0 L1759.5 574.4 L1762.4 575.8 L1765.3 577.3 L1768.2 578.9 L1771.1 580.4 L1774.0 582.0 L1776.9 583.6 L1779.9 585.3 L1782.8 586.9 L1785.7 588.6 L1788.6 590.4 L1791.5 592.1 L1794.4 593.9 L1797.3 595.6 L1800.2 597.4 L1803.2 599.3 L1806.1 601.1 L1809.0 602.9 L1811.9 604.7 L1814.8 606.6 L1817.7 608.4 L1820.6 610.3 L1823.6 612.1 L1826.5 614.0 L1829.4 615.8 L1832.3 617.7 L1835.2 619.5 L1838.1 621.3 L1841.0 623.1 L1844.0 624.9 L1846.9 626.7 L1849.8 628.4 L1852.7 630.2 L1855.6 631.9 L1858.5 633.6 L1861.4 635.2 L1864.4 636.9 L1867.3 638.5 L1870.2 640.1 L1873.1 641.6 L1876.0 643.1 L1878.9 644.6 L1881.8 646.1 L1884.8 647.5 L1887.7 648.8 L1890.6 650.2 L1893.5 651.5 L1896.4 652.7 L1899.3 654.0 L1902.2 655.1 L1905.1 656.3 L1908.1 657.3 L1911.0 658.4 L1913.9 659.4 L1916.8 660.3 L1919.7 661.2 L1922.6 662.0 L1925.5 662.8 L1928.5 663.6 L1931.4 664.2 L1934.3 664.9 L1937.2 665.4 L1940.1 665.9 L1943.0 666.4 L1945.9 666.8 L1948.9 667.1 L1951.8 667.4 L1954.7 667.5 L1957.6 667.7 L1960.5 667.7 L1963.4 667.7 L1966.3 667.7 L1969.3 667.5 L1972.2 667.3 L1975.1 667.0 L1978.0 666.6 L1980.9 666.2 L1983.8 665.7 L1986.7 665.1 L1989.6 664.5 L1992.6 663.8 L1995.5 663.0 L1998.4 662.2 L2001.3 661.4 L2004.2 660.4 L2007.1 659.5 L2010.0 658.4 L2013.0 657.4 L2015.9 656.3 L2018.8 655.1 L2021.7 653.9 L2024.6 652.7 L2027.5 651.4 L2030.4 650.1 L2033.4 648.8 L2036.3 647.4 L2039.2 646.0 L2042.1 644.6 L2045.0 643.2 L2047.9 641.8 L2050.8 640.3 L2053.8 638.8 L2056.7 637.4 L2059.6 635.9 L2062.5 634.4 L2065.4 632.9 L2068.3 631.4 L2071.2 629.9 L2074.1 628.3 L2077.1 626.8 L2080.0 625.3 L2082.9 623.8 L2085.8 622.3 L2088.7 620.8 L2091.6 619.2 L2094.5 617.7 L2097.5 616.2 L2100.4 614.7 L2103.3 613.2 L2106.2 611.7 L2109.1 610.2 L2112.0 608.7 L2114.9 607.2 L2117.9 605.7 L2120.8 604.2 L2123.7 602.7 L2126.6 601.2 L2129.5 599.7 L2132.4 598.3 L2135.3 596.8 L2138.3 595.4 L2141.2 593.9 L2144.1 592.5 L2147.0 591.1 L2149.9 589.7 L2152.8 588.3 L2155.7 586.9 L2158.7 585.5 L2161.6 584.1 L2164.5 582.8 L2167.4 581.4 L2170.3 580.1 L2173.2 578.8 L2176.1 577.5 L2179.0 576.2 L2182.0 574.9 L2184.9 573.6 L2187.8 572.4 L2190.7 571.2 L2193.6 570.0 L2196.5 568.8 L2199.4 567.6 L2202.4 566.5 L2205.3 565.3 L2208.2 564.2 L2211.1 563.1 L2214.0 562.0 L2216.9 561.0 L2219.8 560.0 L2222.8 558.9 L2225.7 558.0 L2228.6 557.0 L2231.5 556.1 L2234.4 555.1 L2237.3 554.2 L2240.2 553.4 L2243.2 552.5 L2246.1 551.7 L2249.0 550.9 L2251.9 550.2 L2254.8 549.4 L2257.7 548.7 L2260.6 548.0 L2263.5 547.4 L2266.5 546.8 L2269.4 546.2 L2272.3 545.6 L2275.2 545.1 L2278.1 544.6 L2281.0 544.1 L2283.9 543.6 L2286.9 543.2 L2289.8 542.8 L2292.7 542.4 L2295.6 542.1 L2298.5 541.8 L2301.4 541.5 L2304.3 541.2 L2307.3 540.9 L2310.2 540.7 L2313.1 540.5 L2316.0 540.3 L2318.9 540.1 L2321.8 540.0 L2324.7 539.9 L2327.7 539.8 L2330.6 539.7 L2333.5 539.6 L2336.4 539.6 L2339.3 539.5 L2342.2 539.5 L2345.1 539.5 L2348.1 539.5 L2351.0 539.6 L2353.9 539.6 L2356.8 539.7 L2359.7 539.8 L2362.6 539.8 L2365.5 539.9 L2368.4 540.1 L2371.4 540.2 L2374.3 540.3 L2377.2 540.5 L2380.1 540.6 L2383.0 540.8 L2385.9 541.0 L2388.8 541.2 L2391.8 541.4 L2394.7 541.6 L2397.6 541.8 L2400.5 542.0 L2403.4 542.3 L2406.3 542.5 L2409.2 542.8 L2412.2 543.1 L2415.1 543.4 L2418.0 543.7 L2420.9 544.0 L2423.8 544.3 L2426.7 544.7 L2429.6 545.0 L2432.6 545.4 L2435.5 545.8 L2438.4 546.2 L2441.3 546.6 L2444.2 547.1 L2447.1 547.5 L2450.0 548.0 L2452.9 548.5 L2455.9 549.0 L2458.8 549.6 L2461.7 550.1 L2464.6 550.7 L2467.5 551.3 L2470.4 551.9 L2473.3 552.5 L2476.3 553.2 L2479.2 553.9 L2482.1 554.6 L2485.0 555.3 L2487.9 556.0 L2490.8 556.7 L2493.7 557.5 L2496.7 558.3 L2499.6 559.1 L2502.5 559.9 L2505.4 560.7 L2508.3 561.5 L2511.2 562.4 L2514.1 563.2 L2517.1 564.1 L2520.0 565.0 L2522.9 565.9 L2525.8 566.8 L2528.7 567.7 L2531.6 568.6 L2534.5 569.6 L2537.4 570.5 L2540.4 571.5 L2543.3 572.4 L2546.2 573.4 L2549.1 574.3 L2552.0 575.3 L2554.9 576.3 L2557.8 577.3 L2560.8 578.2 L2563.7 579.2 L2566.6 580.2 L2569.5 581.2 L2572.4 582.2 L2575.3 583.1 L2578.2 584.1 L2581.2 585.1 L2584.1 586.1 L2587.0 587.1 L2589.9 588.1 L2592.8 589.0 L2595.7 590.0 L2598.6 591.0 L2601.6 591.9 L2604.5 592.9 L2607.4 593.8 L2610.3 594.8 L2613.2 595.7 L2616.1 596.6 L2619.0 597.5 L2622.0 598.4 L2624.9 599.3 L2627.8 600.2 L2630.7 601.1 L2633.6 601.9 L2636.5 602.8 L2639.4 603.6 L2642.3 604.4 L2645.3 605.3 L2648.2 606.0 L2651.1 606.8 L2654.0 607.6 L2656.9 608.3 L2659.8 609.1 L2662.7 609.8 L2665.7 610.5 L2668.6 611.1 L2671.5 611.8 L2674.4 612.4" stroke="#000" stroke-width="2.2" fill="none" stroke-linejoin="round"/>
<path d="M1042.7 714.2 L1045.6 716.8 L1048.5 719.2 L1051.4 721.6 L1054.3 723.8 L1057.2 725.9 L1060.1 727.9 L1063.0 729.8 L1066.0 731.5 L1068.9 733.2 L1071.8 734.8 L1074.7 736.2 L1077.6 737.6 L1080.5 738.8 L1083.4 740.0 L1086.4 741.0 L1089.3 741.9 L1092.2 742.8 L1095.1 743.5 L1098.0 744.2 L1100.9 744.7 L1103.8 745.2 L1106.8 745.5 L1109.7 745.8 L1112.6 746.0 L1115.5 746.1 L1118.4 746.1 L1121.3 746.0 L1124.2 745.8 L1127.2 745.5 L1130.1 745.1 L1133.0 744.7 L1135.9 744.2 L1138.8 743.5 L1141.7 742.8 L1144.6 742.1 L1147.5 741.2 L1150.5 740.3 L1153.4 739.3 L1156.3 738.2 L1159.2 737.0 L1162.1 735.8 L1165.0 734.4 L1167.9 733.0 L1170.9 731.6 L1173.8 730.0 L1176.7 728.4 L1179.6 726.8 L1182.5 725.0 L1185.4 723.2 L1188.3 721.3 L1191.3 719.4 L1194.2 717.4 L1197.1 715.3 L1200.0 713.2 L1202.9 711.0 L1205.8 708.7 L1208.7 706.4 L1211.7 704.0 L1214.6 701.6 L1217.5 699.1 L1220.4 696.6 L1223.3 694.0 L1226.2 691.3 L1229.1 688.6 L1232.1 685.9 L1235.0 683.1 L1237.9 680.2 L1240.8 677.3 L1243.7 674.4 L1246.6 671.4 L1249.5 668.4 L1252.4 665.3 L1255.4 662.2 L1258.3 659.0 L1261.2 655.8 L1264.1 652.6 L1267.0 649.3 L1269.9 646.0 L1272.8 642.7 L1275.8 639.3 L1278.7 636.0 L1281.6 632.6 L1284.5 629.1 L1287.4 625.7 L1290.3 622.3 L1293.2 618.8 L1296.2 615.3 L1299.1 611.9 L1302.0 608.4 L1304.9 604.9 L1307.8 601.4 L1310.7 597.9 L1313.6 594.4 L1316.6 591.0 L1319.5 587.5 L1322.4 584.1 L1325.3 580.8 L1328.2 577.5 L1331.1 574.2 L1334.0 571.0 L1336.9 567.9 L1339.9 564.8 L1342.8 561.8 L1345.7 558.9 L1348.6 556.0 L1351.5 553.1 L1354.4 550.2 L1357.3 547.4 L1360.3 544.6 L1363.2 541.8 L1366.1 539.0 L1369.0 536.2 L1371.9 533.4 L1374.8 530.6 L1377.7 527.9 L1380.7 525.1 L1383.6 522.3 L1386.5 519.6 L1389.4 516.8 L1392.3 514.1 L1395.2 511.4 L1398.1 508.7 L1401.1 506.0 L1404.0 503.3 L1406.9 500.6 L1409.8 498.0 L1412.7 495.3 L1415.6 492.7 L1418.5 490.1 L1421.5 487.5 L1424.4 484.9 L1427.3 482.4 L1430.2 479.9 L1433.1 477.4 L1436.0 474.9 L1438.9 472.4 L1441.8 470.0 L1444.8 467.6 L1447.7 465.2 L1450.6 462.9 L1453.5 460.6 L1456.4 458.3 L1459.3 456.0 L1462.2 453.8 L1465.2 451.6 L1468.1 449.4 L1471.0 447.3 L1473.9 445.2 L1476.8 443.1 L1479.7 441.0 L1482.6 439.0 L1485.6 437.0 L1488.5 435.1 L1491.4 433.2 L1494.3 431.3 L1497.2 429.5 L1500.1 427.7 L1503.0 425.9 L1506.0 424.2 L1508.9 422.5 L1511.8 420.8 L1514.7 419.2 L1517.6 417.6 L1520.5 416.1 L1523.4 414.6 L1526.3 413.1 L1529.3 411.7 L1532.2 410.3 L1535.1 409.0 L1538.0 407.7 L1540.9 406.5 L1543.8 405.3 L1546.7 404.1 L1549.7 403.0 L1552.6 401.9 L1555.5 400.9 L1558.4 399.9 L1561.3 399.0 L1564.2 398.1 L1567.1 397.2 L1570.1 396.4 L1573.0 395.7 L1575.9 395.0 L1578.8 394.3 L1581.7 393.7 L1584.6 393.1 L1587.5 392.6 L1590.5 392.1 L1593.4 391.6 L1596.3 391.2 L1599.2 390.8 L1602.1 390.4 L1605.0 390.1 L1607.9 389.7 L1610.8 389.4 L1613.8 389.2 L1616.7 388.9 L1619.6 388.7 L1622.5 388.5 L1625.4 388.3 L1628.3 388.1 L1631.2 388.0 L1634.2 387.8 L1637.1 387.7 L1640.0 387.5 L1642.9 387.4 L1645.8 387.3 L1648.7 387.2 L1651.6 387.1 L1654.6 387.0 L1657.5 386.9 L1660.4 386.8 L1663.3 386.7 L1666.2 386.6 L1669.1 386.5 L1672.0 386.4 L1675.0 386.3 L1677.9 386.3 L1680.8 386.2 L1683.7 386.1 L1686.6 386.1 L1689.5 386.1 L1692.4 386.1 L1695.4 386.1 L1698.3 386.2 L1701.2 386.2 L1704.1 386.3 L1707.0 386.4 L1709.9 386.5 L1712.8 386.7 L1715.7 386.8 L1718.7 387.0 L1721.6 387.3 L1724.5 387.5 L1727.4 387.8 L1730.3 388.2 L1733.2 388.5 L1736.1 388.9 L1739.1 389.4 L1742.0 389.9 L1744.9 390.4 L1747.8 390.9 L1750.7 391.5 L1753.6 392.2 L1756.5 392.9 L1759.5 393.6 L1762.4 394.4 L1765.3 395.3 L1768.2 396.2 L1771.1 397.1 L1774.0 398.1 L1776.9 399.2 L1779.9 400.3 L1782.8 401.4 L1785.7 402.6 L1788.6 403.8 L1791.5 405.1 L1794.4 406.4 L1797.3 407.7 L1800.2 409.0 L1803.2 410.4 L1806.1 411.8 L1809.0 413.2 L1811.9 414.6 L1814.8 416.0 L1817.7 417.5 L1820.6 418.9 L1823.6 420.3 L1826.5 421.8 L1829.4 423.2 L1832.3 424.6 L1835.2 426.0 L1838.1 427.4 L1841.0 428.7 L1844.0 430.1 L1846.9 431.4 L1849.8 432.7 L1852.7 433.9 L1855.6 435.2 L1858.5 436.3 L1861.4 437.5 L1864.4 438.6 L1867.3 439.6 L1870.2 440.7 L1873.1 441.6 L1876.0 442.6 L1878.9 443.4 L1881.8 444.3 L1884.8 445.1 L1887.7 445.8 L1890.6 446.5 L1893.5 447.2 L1896.4 447.8 L1899.3 448.3 L1902.2 448.9 L1905.1 449.3 L1908.1 449.7 L1911.0 450.1 L1913.9 450.4 L1916.8 450.7 L1919.7 450.9 L1922.6 451.1 L1925.5 451.2 L1928.5 451.3 L1931.4 451.3 L1934.3 451.3 L1937.2 451.2 L1940.1 451.1 L1943.0 450.9 L1945.9 450.7 L1948.9 450.4 L1951.8 450.0 L1954.7 449.6 L1957.6 449.1 L1960.5 448.6 L1963.4 448.1 L1966.3 447.4 L1969.3 446.8 L1972.2 446.0 L1975.1 445.2 L1978.0 444.4 L1980.9 443.5 L1983.8 442.5 L1986.7 441.5 L1989.6 440.4 L1992.6 439.3 L1995.5 438.1 L1998.4 436.9 L2001.3 435.6 L2004.2 434.3 L2007.1 433.0 L2010.0 431.6 L2013.0 430.2 L2015.9 428.7 L2018.8 427.2 L2021.7 425.7 L2024.6 424.1 L2027.5 422.5 L2030.4 420.9 L2033.4 419.2 L2036.3 417.5 L2039.2 415.8 L2042.1 414.0 L2045.0 412.3 L2047.9 410.5 L2050.8 408.7 L2053.8 406.8 L2056.7 405.0 L2059.6 403.1 L2062.5 401.3 L2065.4 399.4 L2068.3 397.5 L2071.2 395.6 L2074.1 393.6 L2077.1 391.7 L2080.0 389.8 M2182.0 320.7 L2184.9 318.8 L2187.8 316.9 L2190.7 315.1 L2193.6 313.3 L2196.5 311.5 L2199.4 309.7 L2202.4 307.9 L2205.3 306.2 L2208.2 304.4 L2211.1 302.7 L2214.0 301.0 L2216.9 299.4 L2219.8 297.7 L2222.8 296.1 L2225.7 294.5 L2228.6 292.9 L2231.5 291.3 L2234.4 289.8 L2237.3 288.3 L2240.2 286.8 L2243.2 285.3 L2246.1 283.9 L2249.0 282.5 L2251.9 281.1 L2254.8 279.8 L2257.7 278.4 L2260.6 277.2 L2263.5 275.9 L2266.5 274.7 L2269.4 273.5 L2272.3 272.3 L2275.2 271.2 L2278.1 270.1 L2281.0 269.0 L2283.9 268.0 L2286.9 266.9 L2289.8 266.0 L2292.7 265.0 L2295.6 264.1 L2298.5 263.2 L2301.4 262.3 L2304.3 261.5 L2307.3 260.7 L2310.2 259.9 L2313.1 259.1 L2316.0 258.4 L2318.9 257.7 L2321.8 257.0 L2324.7 256.3 L2327.7 255.7 L2330.6 255.1 L2333.5 254.5 L2336.4 253.9 L2339.3 253.4 L2342.2 252.9 L2345.1 252.4 L2348.1 251.9 L2351.0 251.5 L2353.9 251.1 L2356.8 250.6 L2359.7 250.3 L2362.6 249.9 L2365.5 249.6 L2368.4 249.2 L2371.4 248.9 L2374.3 248.6 L2377.2 248.4 L2380.1 248.1 L2383.0 247.9 L2385.9 247.7 L2388.8 247.5 L2391.8 247.3 L2394.7 247.1 L2397.6 247.0 L2400.5 246.8 L2403.4 246.7 L2406.3 246.6 L2409.2 246.5 L2412.2 246.4 L2415.1 246.4 L2418.0 246.3 L2420.9 246.3 L2423.8 246.3 L2426.7 246.3 L2429.6 246.3 L2432.6 246.3 L2435.5 246.3 L2438.4 246.3 L2441.3 246.4 L2444.2 246.4 L2447.1 246.5 L2450.0 246.6 L2452.9 246.7 L2455.9 246.8 L2458.8 246.9 L2461.7 247.0 L2464.6 247.1 L2467.5 247.2 L2470.4 247.3 L2473.3 247.5 L2476.3 247.6 L2479.2 247.8 L2482.1 247.9 L2485.0 248.1 L2487.9 248.3 L2490.8 248.4 L2493.7 248.6 L2496.7 248.8 L2499.6 249.0 L2502.5 249.2 L2505.4 249.4 L2508.3 249.7 L2511.2 249.9 L2514.1 250.1 L2517.1 250.4 L2520.0 250.6 L2522.9 250.9 L2525.8 251.1 L2528.7 251.4 L2531.6 251.7 L2534.5 252.0 L2537.4 252.3 L2540.4 252.6 L2543.3 252.9 L2546.2 253.3 L2549.1 253.6 L2552.0 253.9 L2554.9 254.3 L2557.8 254.7 L2560.8 255.0 L2563.7 255.4 L2566.6 255.8 L2569.5 256.2 L2572.4 256.6 L2575.3 257.0 L2578.2 257.5 L2581.2 257.9 L2584.1 258.3 L2587.0 258.8 L2589.9 259.3 L2592.8 259.7 L2595.7 260.2 L2598.6 260.7 L2601.6 261.2 L2604.5 261.8 L2607.4 262.3 L2610.3 262.8 L2613.2 263.4 L2616.1 263.9 L2619.0 264.5 L2622.0 265.1 L2624.9 265.7 L2627.8 266.3 L2630.7 266.9 L2633.6 267.6 L2636.5 268.2 L2639.4 268.8 L2642.3 269.5 L2645.3 270.2 L2648.2 270.9 L2651.1 271.6 L2654.0 272.3 L2656.9 273.0 L2659.8 273.7 L2662.7 274.5 L2665.7 275.3 L2668.6 276.0 L2671.5 276.8 L2674.4 277.6" stroke="#0000ff" stroke-width="4.0" fill="none" stroke-linejoin="round"/>
<path d="M1042.7 733.7 L1045.6 736.7 L1048.5 739.7 L1051.4 742.6 L1054.3 745.4 L1057.2 748.1 L1060.1 750.8 L1063.0 753.5 L1066.0 756.0 L1068.9 758.5 L1071.8 760.9 L1074.7 763.3 L1077.6 765.5 L1080.5 767.7 L1083.4 769.9 L1086.4 771.9 L1089.3 773.9 L1092.2 775.8 L1095.1 777.6 L1098.0 779.4 L1100.9 781.0 L1103.8 782.6 L1106.8 784.1 L1109.7 785.6 L1112.6 786.9 L1115.5 788.2 L1118.4 789.3 L1121.3 790.4 L1124.2 791.4 L1127.2 792.4 L1130.1 793.2 L1133.0 793.9 L1135.9 794.6 L1138.8 795.2 L1141.7 795.6 L1144.6 796.0 L1147.5 796.3 L1150.5 796.5 L1153.4 796.6 L1156.3 796.6 L1159.2 796.5 L1162.1 796.4 L1165.0 796.1 L1167.9 795.7 L1170.9 795.2 L1173.8 794.7 L1176.7 794.0 L1179.6 793.3 L1182.5 792.5 L1185.4 791.6 L1188.3 790.6 L1191.3 789.5 L1194.2 788.3 L1197.1 787.1 L1200.0 785.8 L1202.9 784.4 L1205.8 782.9 L1208.7 781.4 L1211.7 779.8 L1214.6 778.1 L1217.5 776.3 L1220.4 774.5 L1223.3 772.6 L1226.2 770.6 L1229.1 768.6 L1232.1 766.5 L1235.0 764.3 L1237.9 762.1 L1240.8 759.8 L1243.7 757.5 L1246.6 755.1 L1249.5 752.6 L1252.4 750.1 L1255.4 747.6 L1258.3 745.0 L1261.2 742.3 L1264.1 739.6 L1267.0 736.9 L1269.9 734.1 L1272.8 731.3 L1275.8 728.5 L1278.7 725.6 L1281.6 722.7 L1284.5 719.7 L1287.4 716.8 L1290.3 713.8 L1293.2 710.8 L1296.2 707.8 L1299.1 704.7 L1302.0 701.7 L1304.9 698.6 L1307.8 695.5 L1310.7 692.4 L1313.6 689.4 L1316.6 686.3 L1319.5 683.2 L1322.4 680.2 L1325.3 677.1 L1328.2 674.1 L1331.1 671.1 L1334.0 668.1 L1336.9 665.2 L1339.9 662.3 L1342.8 659.5 L1345.7 656.6 L1348.6 653.9 L1351.5 651.2 L1354.4 648.5 L1357.3 646.0 L1360.3 643.5 L1363.2 641.0 L1366.1 638.6 L1369.0 636.3 L1371.9 634.1 L1374.8 632.0 L1377.7 629.8 L1380.7 627.8 L1383.6 625.8 L1386.5 623.8 L1389.4 621.9 L1392.3 620.0 L1395.2 618.1 L1398.1 616.3 L1401.1 614.5 L1404.0 612.6 L1406.9 610.9 L1409.8 609.1 L1412.7 607.3 L1415.6 605.5 L1418.5 603.7 L1421.5 601.8 L1424.4 600.0 L1427.3 598.2 L1430.2 596.3 L1433.1 594.5 L1436.0 592.6 L1438.9 590.8 L1441.8 589.0 L1444.8 587.3 L1447.7 585.6 L1450.6 583.9 L1453.5 582.3 L1456.4 580.8 L1459.3 579.3 L1462.2 577.9 L1465.2 576.5 L1468.1 575.2 L1471.0 574.0 L1473.9 572.8 L1476.8 571.6 L1479.7 570.5 L1482.6 569.5 L1485.6 568.5 L1488.5 567.5 L1491.4 566.6 L1494.3 565.8 L1497.2 565.0 L1500.1 564.2 L1503.0 563.5 L1506.0 562.8 L1508.9 562.2 L1511.8 561.7 L1514.7 561.1 L1517.6 560.6 L1520.5 560.2 L1523.4 559.8 L1526.3 559.4 L1529.3 559.1 L1532.2 558.8 L1535.1 558.6 L1538.0 558.3 L1540.9 558.2 L1543.8 558.0 L1546.7 557.9 L1549.7 557.9 L1552.6 557.8 L1555.5 557.8 L1558.4 557.8 L1561.3 557.9 L1564.2 558.0 L1567.1 558.1 L1570.1 558.3 L1573.0 558.4 L1575.9 558.7 L1578.8 558.9 L1581.7 559.1 L1584.6 559.4 L1587.5 559.7 L1590.5 560.1 L1593.4 560.4 L1596.3 560.8 L1599.2 561.2 L1602.1 561.6 L1605.0 562.1 L1607.9 562.5 L1610.8 563.0 L1613.8 563.5 L1616.7 564.0 L1619.6 564.6 L1622.5 565.1 L1625.4 565.7 L1628.3 566.3 L1631.2 566.9 L1634.2 567.5 L1637.1 568.1 L1640.0 568.7 L1642.9 569.3 L1645.8 570.0 L1648.7 570.7 L1651.6 571.3 L1654.6 572.0 L1657.5 572.7 L1660.4 573.4 L1663.3 574.1 L1666.2 574.8 L1669.1 575.5 L1672.0 576.2 L1675.0 577.0 L1677.9 577.7 L1680.8 578.5 L1683.7 579.3 L1686.6 580.1 L1689.5 580.9 L1692.4 581.7 L1695.4 582.5 L1698.3 583.4 L1701.2 584.3 L1704.1 585.2 L1707.0 586.1 L1709.9 587.0 L1712.8 588.0 L1715.7 589.0 L1718.7 590.0 L1721.6 591.0 L1724.5 592.0 L1727.4 593.1 L1730.3 594.2 L1733.2 595.4 L1736.1 596.5 L1739.1 597.7 L1742.0 598.9 L1744.9 600.1 L1747.8 601.4 L1750.7 602.7 L1753.6 604.1 L1756.5 605.4 L1759.5 606.8 L1762.4 608.3 L1765.3 609.7 L1768.2 611.2 L1771.1 612.8 L1774.0 614.4 L1776.9 616.0 L1779.9 617.6 L1782.8 619.3 L1785.7 621.0 L1788.6 622.7 L1791.5 624.5 L1794.4 626.2 L1797.3 628.0 L1800.2 629.8 L1803.2 631.7 L1806.1 633.5 L1809.0 635.3 L1811.9 637.2 L1814.8 639.0 L1817.7 640.9 L1820.6 642.7 L1823.6 644.5 L1826.5 646.4 L1829.4 648.2 L1832.3 650.0 L1835.2 651.8 L1838.1 653.6 L1841.0 655.4 L1844.0 657.1 L1846.9 658.8 L1849.8 660.5 L1852.7 662.2 L1855.6 663.8 L1858.5 665.4 L1861.4 667.0 L1864.4 668.5 L1867.3 670.0 L1870.2 671.5 L1873.1 672.9 L1876.0 674.3 L1878.9 675.6 L1881.8 677.0 L1884.8 678.2 L1887.7 679.4 L1890.6 680.6 L1893.5 681.8 L1896.4 682.9 L1899.3 683.9 L1902.2 684.9 L1905.1 685.9 L1908.1 686.8 L1911.0 687.7 L1913.9 688.5 L1916.8 689.3 L1919.7 690.1 L1922.6 690.7 L1925.5 691.4 L1928.5 692.0 L1931.4 692.5 L1934.3 693.0 L1937.2 693.4 L1940.1 693.8 L1943.0 694.2 L1945.9 694.5 L1948.9 694.7 L1951.8 694.9 L1954.7 695.0 L1957.6 695.0 L1960.5 695.1 L1963.4 695.0 L1966.3 694.9 L1969.3 694.7 L1972.2 694.5 L1975.1 694.2 L1978.0 693.9 L1980.9 693.5 L1983.8 693.1 L1986.7 692.6 L1989.6 692.0 L1992.6 691.4 L1995.5 690.7 L1998.4 690.0 L2001.3 689.2 L2004.2 688.4 L2007.1 687.6 L2010.0 686.7 L2013.0 685.8 L2015.9 684.8 L2018.8 683.8 L2021.7 682.7 L2024.6 681.6 L2027.5 680.5 L2030.4 679.4 L2033.4 678.2 L2036.3 677.0 L2039.2 675.7 L2042.1 674.4 L2045.0 673.2 L2047.9 671.8 L2050.8 670.5 L2053.8 669.1 L2056.7 667.8 L2059.6 666.4 L2062.5 664.9 L2065.4 663.5 L2068.3 662.1 L2071.2 660.6 L2074.1 659.1 L2077.1 657.7 L2080.0 656.2 M2182.0 602.2 L2184.9 600.7 L2187.8 599.3 L2190.7 597.9 L2193.6 596.5 L2196.5 595.1 L2199.4 593.7 L2202.4 592.4 L2205.3 591.0 L2208.2 589.7 L2211.1 588.4 L2214.0 587.1 L2216.9 585.9 L2219.8 584.7 L2222.8 583.5 L2225.7 582.3 L2228.6 581.1 L2231.5 580.0 L2234.4 578.8 L2237.3 577.8 L2240.2 576.7 L2243.2 575.7 L2246.1 574.7 L2249.0 573.7 L2251.9 572.7 L2254.8 571.8 L2257.7 570.9 L2260.6 570.0 L2263.5 569.2 L2266.5 568.4 L2269.4 567.7 L2272.3 566.9 L2275.2 566.2 L2278.1 565.6 L2281.0 564.9 L2283.9 564.3 L2286.9 563.8 L2289.8 563.2 L2292.7 562.7 L2295.6 562.2 L2298.5 561.8 L2301.4 561.3 L2304.3 560.9 L2307.3 560.6 L2310.2 560.2 L2313.1 559.9 L2316.0 559.6 L2318.9 559.3 L2321.8 559.1 L2324.7 558.9 L2327.7 558.7 L2330.6 558.5 L2333.5 558.4 L2336.4 558.3 L2339.3 558.2 L2342.2 558.1 L2345.1 558.1 L2348.1 558.0 L2351.0 558.0 L2353.9 558.0 L2356.8 558.1 L2359.7 558.1 L2362.6 558.2 L2365.5 558.3 L2368.4 558.4 L2371.4 558.5 L2374.3 558.7 L2377.2 558.8 L2380.1 559.0 L2383.0 559.2 L2385.9 559.4 L2388.8 559.7 L2391.8 559.9 L2394.7 560.2 L2397.6 560.5 L2400.5 560.8 L2403.4 561.1 L2406.3 561.4 L2409.2 561.8 L2412.2 562.2 L2415.1 562.6 L2418.0 563.0 L2420.9 563.4 L2423.8 563.8 L2426.7 564.3 L2429.6 564.8 L2432.6 565.3 L2435.5 565.8 L2438.4 566.3 L2441.3 566.9 L2444.2 567.5 L2447.1 568.1 L2450.0 568.7 L2452.9 569.3 L2455.9 570.0 L2458.8 570.7 L2461.7 571.4 L2464.6 572.1 L2467.5 572.9 L2470.4 573.6 L2473.3 574.4 L2476.3 575.2 L2479.2 576.0 L2482.1 576.9 L2485.0 577.8 L2487.9 578.6 L2490.8 579.5 L2493.7 580.4 L2496.7 581.4 L2499.6 582.3 L2502.5 583.2 L2505.4 584.2 L2508.3 585.2 L2511.2 586.1 L2514.1 587.1 L2517.1 588.1 L2520.0 589.1 L2522.9 590.1 L2525.8 591.1 L2528.7 592.1 L2531.6 593.1 L2534.5 594.1 L2537.4 595.2 L2540.4 596.2 L2543.3 597.2 L2546.2 598.2 L2549.1 599.2 L2552.0 600.2 L2554.9 601.1 L2557.8 602.1 L2560.8 603.1 L2563.7 604.1 L2566.6 605.0 L2569.5 606.0 L2572.4 606.9 L2575.3 607.8 L2578.2 608.7 L2581.2 609.6 L2584.1 610.5 L2587.0 611.3 L2589.9 612.1 L2592.8 613.0 L2595.7 613.8 L2598.6 614.5 L2601.6 615.3 L2604.5 616.0 L2607.4 616.7 L2610.3 617.4 L2613.2 618.1 L2616.1 618.7 L2619.0 619.3 L2622.0 619.9 L2624.9 620.4 L2627.8 620.9 L2630.7 621.4 L2633.6 621.9 L2636.5 622.3 L2639.4 622.6 L2642.3 623.0 L2645.3 623.3 L2648.2 623.6 L2651.1 623.8 L2654.0 624.0 L2656.9 624.1 L2659.8 624.2 L2662.7 624.3 L2665.7 624.3 L2668.6 624.3 L2671.5 624.2 L2674.4 624.1" stroke="#0000ff" stroke-width="4.0" fill="none" stroke-linejoin="round"/>
<text transform="translate(2131 213.9) scale(1 1.045)" font-size="41.7" text-anchor="middle" fill="#000">5%</text>
<text transform="translate(2131 370.8) scale(1 1.045)" font-size="41.7" text-anchor="middle" fill="#0000ff">15%</text>
<text transform="translate(2130 645.1) scale(1 1.045)" font-size="41.7" text-anchor="middle" fill="#0000ff">85%</text>
<text transform="translate(2130 696.4) scale(1 1.045)" font-size="41.7" text-anchor="middle" fill="#000">95%</text>
<path d="M576.4 955.4v-26.5M576.4 64.5v26.5 M1100.9 955.4v-26.5M1100.9 64.5v26.5 M1275.8 955.4v-26.5M1275.8 64.5v26.5 M1450.6 955.4v-26.5M1450.6 64.5v26.5 M1683.7 955.4v-26.5M1683.7 64.5v26.5 M1916.8 955.4v-26.5M1916.8 64.5v26.5 M2324.7 955.4v-26.5M2324.7 64.5v26.5 M168.5 658.4h27.0M2674.4 658.4h-27.0 M168.5 361.5h27.0M2674.4 361.5h-27.0" stroke="#262626" stroke-width="4.2" fill="none"/>
<line x1="1042.7" x2="1042.7" y1="64.5" y2="955.4" stroke="#000" stroke-width="4.2"/>
<rect x="168.5" y="64.5" width="2505.9" height="890.9" fill="none" stroke="#262626" stroke-width="4.2"/>
<text transform="translate(986.8 105.8) scale(1 1.045)" font-size="41.5" font-weight="bold" text-anchor="end" fill="#000">Observations</text>
<text transform="translate(1098.6 105.8) scale(1 1.045)" font-size="41.5" font-weight="bold" fill="#000">Forecasts</text>
<text id="arrow" transform="translate(1043.5 110.8) scale(2.11 1.04)" font-family='NanumGothic, "WenQuanYi Zen Hei", "Noto Serif CJK SC", "DejaVu Sans", sans-serif' font-size="44" text-anchor="middle" fill="#000">⇔</text>
</g>
<text transform="translate(167.8 42.4) scale(1 1.045)" font-size="55.0" font-weight="bold" fill="#000">TROIS-RIVIERES (#03360)</text>
<text transform="translate(39.2 511.3) rotate(-90) scale(1 1.045)" font-size="50" font-weight="bold" text-anchor="middle" fill="#262626">Water level [m above CD]</text>
<text transform="translate(149.8 83.2) scale(1 1.025)" font-size="50" text-anchor="end" fill="#262626">1.0</text>
<text transform="translate(3486.2 83.2) scale(1 1.025)" font-size="50" fill="#262626">1.0</text>
<text transform="translate(149.8 381.5) scale(1 1.025)" font-size="50" text-anchor="end" fill="#262626">0.5</text>
<text transform="translate(3486.2 381.5) scale(1 1.025)" font-size="50" fill="#262626">0.5</text>
<text transform="translate(149.8 678.6) scale(1 1.025)" font-size="50" text-anchor="end" fill="#262626">0.0</text>
<text transform="translate(3486.2 678.6) scale(1 1.025)" font-size="50" fill="#262626">0.0</text>
<text transform="translate(149.8 975.6) scale(1 1.025)" font-size="50" text-anchor="end" fill="#262626">-0.5</text>
<text transform="translate(3486.2 975.6) scale(1 1.025)" font-size="50" fill="#262626">-0.5</text>
<text transform="translate(168.5 1015.3) scale(1 1.045)" font-size="41.7" text-anchor="middle" fill="#262626">18 Aug.</text>
<text transform="translate(576.4 1015.3) scale(1 1.045)" font-size="41.7" text-anchor="middle" fill="#262626">25 Aug.</text>
<text transform="translate(1100.9 1015.3) scale(1 1.045)" font-size="41.7" text-anchor="middle" fill="#262626">03 Sep.</text>
<text transform="translate(1275.8 1015.3) scale(1 1.045)" font-size="41.7" text-anchor="middle" fill="#262626">06 Sep.</text>
<text transform="translate(1450.6 1015.3) scale(1 1.045)" font-size="41.7" text-anchor="middle" fill="#262626">09 Sep.</text>
<text transform="translate(1683.7 1015.3) scale(1 1.045)" font-size="41.7" text-anchor="middle" fill="#262626">13 Sep.</text>
<text transform="translate(1916.8 1015.3) scale(1 1.045)" font-size="41.7" text-anchor="middle" fill="#262626">17 Sep.</text>
<text transform="translate(2324.7 1015.3) scale(1 1.045)" font-size="41.7" text-anchor="middle" fill="#262626">24 Sep.</text>
<g id="panel1">
<rect x="2700.4" y="64.5" width="110.3" height="890.9" fill="#b3fbfd"/>
<rect x="2733.2" y="663.2" width="44.6" height="151.0" fill="#ebebeb"/>
<path d="M2702.6 896.0H2810.7 M2702.6 836.6H2810.7 M2702.6 777.2H2810.7 M2702.6 717.8H2810.7 M2702.6 599.0H2810.7 M2702.6 539.6H2810.7 M2702.6 480.3H2810.7 M2702.6 420.9H2810.7 M2702.6 302.1H2810.7 M2702.6 242.7H2810.7 M2702.6 183.3H2810.7 M2702.6 123.9H2810.7" stroke="#262626" stroke-opacity="0.25" stroke-width="4.3" stroke-dasharray="3.9 4.07" fill="none"/>
<line x1="2700.4" x2="2810.7" y1="658.4" y2="658.4" stroke="#262626" stroke-opacity="0.8" stroke-width="2.2"/>
<line x1="2700.4" x2="2810.7" y1="361.5" y2="361.5" stroke="#262626" stroke-opacity="0.8" stroke-width="2.2"/>
<rect x="2733.2" y="663.2" width="44.6" height="151.0" fill="none" stroke="#000" stroke-width="2.2" stroke-dasharray="8.3 4.4"/>
<path d="M2739.2 687.5h32.8L2755.6 715.3Z" fill="#0000ff"/>
<rect x="2744.7" y="764.6" width="21.7" height="21.7" fill="#000"/>
<path d="M2739.2 806.7h32.8L2755.6 778.9Z" fill="#0000ff"/>
<path d="M2755.6 64.5v10.5M2755.6 955.4v-10.5 M2700.4 658.4h10.5M2810.7 658.4h-10.5 M2700.4 361.5h10.5M2810.7 361.5h-10.5" stroke="#262626" stroke-width="4.2" fill="none"/>
<rect x="2700.4" y="64.5" width="110.3" height="890.9" fill="none" stroke="#262626" stroke-width="4.2"/>
<text transform="translate(2755.1 1005.2) scale(1 1.045)" font-size="33.3" text-anchor="middle" fill="#262626">03 Sep.</text>
<text transform="translate(2755.1 1051.4) scale(1 1.045)" font-size="33.3" text-anchor="middle" fill="#262626">05 Sep.</text>
</g>
<g id="panel2">
<rect x="2831.4" y="64.5" width="111.2" height="890.9" fill="#fff"/>
<rect x="2864.7" y="424.2" width="44.6" height="334.0" fill="#ebebeb"/>
<path d="M2833.6 896.0H2942.6 M2833.6 836.6H2942.6 M2833.6 777.2H2942.6 M2833.6 717.8H2942.6 M2833.6 599.0H2942.6 M2833.6 539.6H2942.6 M2833.6 480.3H2942.6 M2833.6 420.9H2942.6 M2833.6 302.1H2942.6 M2833.6 242.7H2942.6 M2833.6 183.3H2942.6 M2833.6 123.9H2942.6" stroke="#262626" stroke-opacity="0.25" stroke-width="4.3" stroke-dasharray="3.9 4.07" fill="none"/>
<line x1="2831.4" x2="2942.6" y1="658.4" y2="658.4" stroke="#262626" stroke-opacity="0.8" stroke-width="2.2"/>
<line x1="2831.4" x2="2942.6" y1="361.5" y2="361.5" stroke="#262626" stroke-opacity="0.8" stroke-width="2.2"/>
<rect x="2864.7" y="424.2" width="44.6" height="334.0" fill="none" stroke="#000" stroke-width="2.2" stroke-dasharray="8.3 4.4"/>
<path d="M2870.6 505.2h32.8L2887.0 533.0Z" fill="#0000ff"/>
<rect x="2876.2" y="688.4" width="21.7" height="21.7" fill="#000"/>
<path d="M2870.6 739.8h32.8L2887.0 712.0Z" fill="#0000ff"/>
<path d="M2887.0 64.5v10.5M2887.0 955.4v-10.5 M2831.4 658.4h10.5M2942.6 658.4h-10.5 M2831.4 361.5h10.5M2942.6 361.5h-10.5" stroke="#262626" stroke-width="4.2" fill="none"/>
<rect x="2831.4" y="64.5" width="111.2" height="890.9" fill="none" stroke="#262626" stroke-width="4.2"/>
<text transform="translate(2886.5 1005.2) scale(1 1.045)" font-size="33.3" text-anchor="middle" fill="#262626">06 Sep.</text>
<text transform="translate(2886.5 1051.4) scale(1 1.045)" font-size="33.3" text-anchor="middle" fill="#262626">08 Sep.</text>
</g>
<g id="panel3">
<rect x="2962.3" y="64.5" width="111.5" height="890.9" fill="#b3fbfd"/>
<rect x="2995.8" y="270.3" width="44.6" height="346.9" fill="#ebebeb"/>
<path d="M2964.5 896.0H3073.8 M2964.5 836.6H3073.8 M2964.5 777.2H3073.8 M2964.5 717.8H3073.8 M2964.5 599.0H3073.8 M2964.5 539.6H3073.8 M2964.5 480.3H3073.8 M2964.5 420.9H3073.8 M2964.5 302.1H3073.8 M2964.5 242.7H3073.8 M2964.5 183.3H3073.8 M2964.5 123.9H3073.8" stroke="#262626" stroke-opacity="0.25" stroke-width="4.3" stroke-dasharray="3.9 4.07" fill="none"/>
<line x1="2962.3" x2="3073.8" y1="658.4" y2="658.4" stroke="#262626" stroke-opacity="0.8" stroke-width="2.2"/>
<line x1="2962.3" x2="3073.8" y1="361.5" y2="361.5" stroke="#262626" stroke-opacity="0.8" stroke-width="2.2"/>
<rect x="2995.8" y="270.3" width="44.6" height="346.9" fill="none" stroke="#000" stroke-width="2.2" stroke-dasharray="8.3 4.4"/>
<path d="M3001.7 379.3h32.8L3018.1 407.1Z" fill="#0000ff"/>
<rect x="3007.2" y="540.8" width="21.7" height="21.7" fill="#000"/>
<path d="M3001.7 595.9h32.8L3018.1 568.1Z" fill="#0000ff"/>
<path d="M3018.1 64.5v10.5M3018.1 955.4v-10.5 M2962.3 658.4h10.5M3073.8 658.4h-10.5 M2962.3 361.5h10.5M3073.8 361.5h-10.5" stroke="#262626" stroke-width="4.2" fill="none"/>
<rect x="2962.3" y="64.5" width="111.5" height="890.9" fill="none" stroke="#262626" stroke-width="4.2"/>
<text transform="translate(3017.6 1005.2) scale(1 1.045)" font-size="33.3" text-anchor="middle" fill="#262626">09 Sep.</text>
<text transform="translate(3017.6 1051.4) scale(1 1.045)" font-size="33.3" text-anchor="middle" fill="#262626">12 Sep.</text>
</g>
<g id="panel4">
<rect x="3094.2" y="64.5" width="110.3" height="890.9" fill="#fff"/>
<rect x="3127.0" y="270.3" width="44.6" height="438.5" fill="#ebebeb"/>
<path d="M3096.4 896.0H3204.5 M3096.4 836.6H3204.5 M3096.4 777.2H3204.5 M3096.4 717.8H3204.5 M3096.4 599.0H3204.5 M3096.4 539.6H3204.5 M3096.4 480.3H3204.5 M3096.4 420.9H3204.5 M3096.4 302.1H3204.5 M3096.4 242.7H3204.5 M3096.4 183.3H3204.5 M3096.4 123.9H3204.5" stroke="#262626" stroke-opacity="0.25" stroke-width="4.3" stroke-dasharray="3.9 4.07" fill="none"/>
<line x1="3094.2" x2="3204.5" y1="658.4" y2="658.4" stroke="#262626" stroke-opacity="0.8" stroke-width="2.2"/>
<line x1="3094.2" x2="3204.5" y1="361.5" y2="361.5" stroke="#262626" stroke-opacity="0.8" stroke-width="2.2"/>
<rect x="3127.0" y="270.3" width="44.6" height="438.5" fill="none" stroke="#000" stroke-width="2.2" stroke-dasharray="8.3 4.4"/>
<path d="M3132.9 375.7h32.8L3149.3 403.5Z" fill="#0000ff"/>
<rect x="3138.5" y="624.9" width="21.7" height="21.7" fill="#000"/>
<path d="M3132.9 676.1h32.8L3149.3 648.3Z" fill="#0000ff"/>
<path d="M3149.3 64.5v10.5M3149.3 955.4v-10.5 M3094.2 658.4h10.5M3204.5 658.4h-10.5 M3094.2 361.5h10.5M3204.5 361.5h-10.5" stroke="#262626" stroke-width="4.2" fill="none"/>
<rect x="3094.2" y="64.5" width="110.3" height="890.9" fill="none" stroke="#262626" stroke-width="4.2"/>
<text transform="translate(3148.8 1005.2) scale(1 1.045)" font-size="33.3" text-anchor="middle" fill="#262626">13 Sep.</text>
<text transform="translate(3148.8 1051.4) scale(1 1.045)" font-size="33.3" text-anchor="middle" fill="#262626">16 Sep.</text>
</g>
<g id="panel5">
<rect x="3225.3" y="64.5" width="110.4" height="890.9" fill="#b3fbfd"/>
<rect x="3258.2" y="138.7" width="44.6" height="612.9" fill="#ebebeb"/>
<path d="M3227.5 896.0H3335.7 M3227.5 836.6H3335.7 M3227.5 777.2H3335.7 M3227.5 717.8H3335.7 M3227.5 599.0H3335.7 M3227.5 539.6H3335.7 M3227.5 480.3H3335.7 M3227.5 420.9H3335.7 M3227.5 302.1H3335.7 M3227.5 242.7H3335.7 M3227.5 183.3H3335.7 M3227.5 123.9H3335.7" stroke="#262626" stroke-opacity="0.25" stroke-width="4.3" stroke-dasharray="3.9 4.07" fill="none"/>
<line x1="3225.3" x2="3335.7" y1="658.4" y2="658.4" stroke="#262626" stroke-opacity="0.8" stroke-width="2.2"/>
<line x1="3225.3" x2="3335.7" y1="361.5" y2="361.5" stroke="#262626" stroke-opacity="0.8" stroke-width="2.2"/>
<rect x="3258.2" y="138.7" width="44.6" height="612.9" fill="none" stroke="#000" stroke-width="2.2" stroke-dasharray="8.3 4.4"/>
<path d="M3264.1 263.5h32.8L3280.5 291.3Z" fill="#0000ff"/>
<rect x="3269.7" y="656.9" width="21.7" height="21.7" fill="#000"/>
<path d="M3264.1 703.9h32.8L3280.5 676.1Z" fill="#0000ff"/>
<path d="M3280.5 64.5v10.5M3280.5 955.4v-10.5 M3225.3 658.4h10.5M3335.7 658.4h-10.5 M3225.3 361.5h10.5M3335.7 361.5h-10.5" stroke="#262626" stroke-width="4.2" fill="none"/>
<rect x="3225.3" y="64.5" width="110.4" height="890.9" fill="none" stroke="#262626" stroke-width="4.2"/>
<text transform="translate(3280.0 1005.2) scale(1 1.045)" font-size="33.3" text-anchor="middle" fill="#262626">17 Sep.</text>
<text transform="translate(3280.0 1051.4) scale(1 1.045)" font-size="33.3" text-anchor="middle" fill="#262626">23 Sep.</text>
</g>
<g id="panel6">
<rect x="3355.4" y="64.5" width="112.3" height="890.9" fill="#fff"/>
<rect x="3389.2" y="70.0" width="44.6" height="656.4" fill="#ebebeb"/>
<path d="M3357.6 896.0H3467.7 M3357.6 836.6H3467.7 M3357.6 777.2H3467.7 M3357.6 717.8H3467.7 M3357.6 599.0H3467.7 M3357.6 539.6H3467.7 M3357.6 480.3H3467.7 M3357.6 420.9H3467.7 M3357.6 302.1H3467.7 M3357.6 242.7H3467.7 M3357.6 183.3H3467.7 M3357.6 123.9H3467.7" stroke="#262626" stroke-opacity="0.25" stroke-width="4.3" stroke-dasharray="3.9 4.07" fill="none"/>
<line x1="3355.4" x2="3467.7" y1="658.4" y2="658.4" stroke="#262626" stroke-opacity="0.8" stroke-width="2.2"/>
<line x1="3355.4" x2="3467.7" y1="361.5" y2="361.5" stroke="#262626" stroke-opacity="0.8" stroke-width="2.2"/>
<rect x="3389.2" y="70.0" width="44.6" height="656.4" fill="none" stroke="#000" stroke-width="2.2" stroke-dasharray="8.3 4.4"/>
<path d="M3395.2 237.2h32.8L3411.6 265.0Z" fill="#0000ff"/>
<rect x="3400.7" y="601.4" width="21.7" height="21.7" fill="#000"/>
<path d="M3395.2 634.1h32.8L3411.6 606.3Z" fill="#0000ff"/>
<path d="M3411.6 64.5v10.5M3411.6 955.4v-10.5 M3355.4 658.4h10.5M3467.7 658.4h-10.5 M3355.4 361.5h10.5M3467.7 361.5h-10.5" stroke="#262626" stroke-width="4.2" fill="none"/>
<rect x="3355.4" y="64.5" width="112.3" height="890.9" fill="none" stroke="#262626" stroke-width="4.2"/>
<text transform="translate(3411.1 1005.2) scale(1 1.045)" font-size="33.3" text-anchor="middle" fill="#262626">24 Sep.</text>
<text transform="translate(3411.1 1051.4) scale(1 1.045)" font-size="33.3" text-anchor="middle" fill="#262626">30 Sep.</text>
</g>
</svg>
</body></html>
